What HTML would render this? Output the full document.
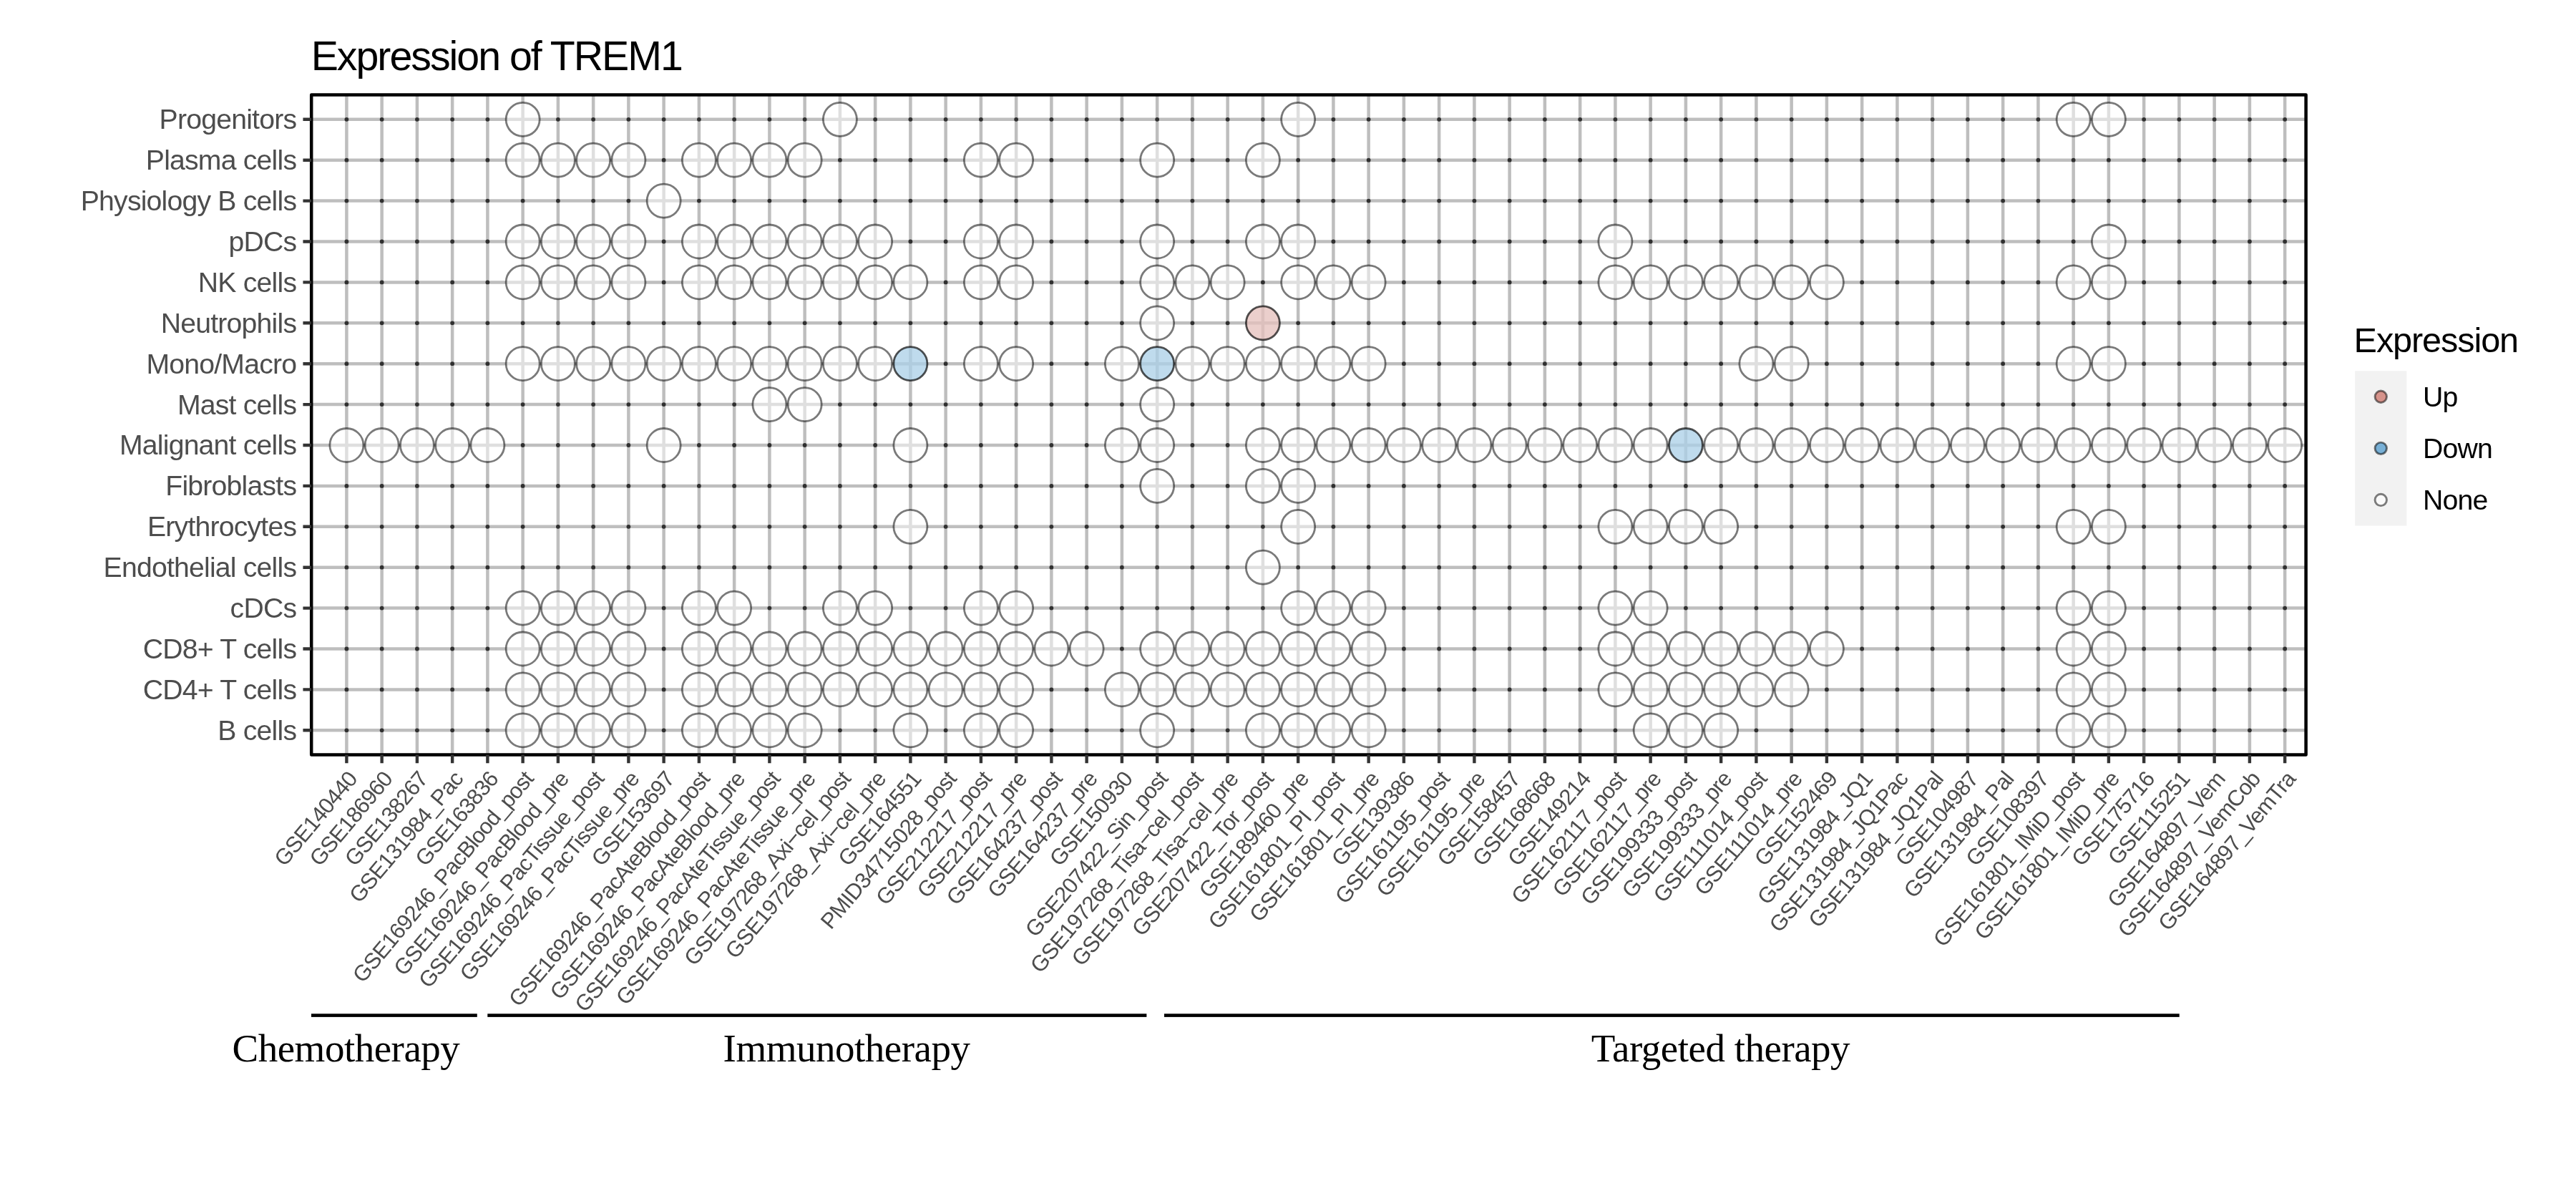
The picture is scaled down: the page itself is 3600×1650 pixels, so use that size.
<!DOCTYPE html><html><head><meta charset="utf-8"><style>html,body{margin:0;padding:0;background:#fff;width:3600px;height:1650px;overflow:hidden}svg{display:block;will-change:transform}</style></head><body>
<svg width="3600" height="1650" viewBox="0 0 3600 1650">
<rect width="3600" height="1650" fill="#fff"/>
<path d="M484.40 132.5V1054.5M533.65 132.5V1054.5M582.90 132.5V1054.5M632.15 132.5V1054.5M681.40 132.5V1054.5M730.65 132.5V1054.5M779.90 132.5V1054.5M829.15 132.5V1054.5M878.40 132.5V1054.5M927.65 132.5V1054.5M976.90 132.5V1054.5M1026.15 132.5V1054.5M1075.40 132.5V1054.5M1124.65 132.5V1054.5M1173.90 132.5V1054.5M1223.15 132.5V1054.5M1272.40 132.5V1054.5M1321.65 132.5V1054.5M1370.90 132.5V1054.5M1420.15 132.5V1054.5M1469.40 132.5V1054.5M1518.65 132.5V1054.5M1567.90 132.5V1054.5M1617.15 132.5V1054.5M1666.40 132.5V1054.5M1715.65 132.5V1054.5M1764.90 132.5V1054.5M1814.15 132.5V1054.5M1863.40 132.5V1054.5M1912.65 132.5V1054.5M1961.90 132.5V1054.5M2011.15 132.5V1054.5M2060.40 132.5V1054.5M2109.65 132.5V1054.5M2158.90 132.5V1054.5M2208.15 132.5V1054.5M2257.40 132.5V1054.5M2306.65 132.5V1054.5M2355.90 132.5V1054.5M2405.15 132.5V1054.5M2454.40 132.5V1054.5M2503.65 132.5V1054.5M2552.90 132.5V1054.5M2602.15 132.5V1054.5M2651.40 132.5V1054.5M2700.65 132.5V1054.5M2749.90 132.5V1054.5M2799.15 132.5V1054.5M2848.40 132.5V1054.5M2897.65 132.5V1054.5M2946.90 132.5V1054.5M2996.15 132.5V1054.5M3045.40 132.5V1054.5M3094.65 132.5V1054.5M3143.90 132.5V1054.5M3193.15 132.5V1054.5M435.2 166.80H3222.6M435.2 223.70H3222.6M435.2 280.60H3222.6M435.2 337.50H3222.6M435.2 394.40H3222.6M435.2 451.30H3222.6M435.2 508.20H3222.6M435.2 565.10H3222.6M435.2 622.00H3222.6M435.2 678.90H3222.6M435.2 735.80H3222.6M435.2 792.70H3222.6M435.2 849.60H3222.6M435.2 906.50H3222.6M435.2 963.40H3222.6M435.2 1020.30H3222.6" stroke="#bebebe" stroke-width="4.5" fill="none"/>
<g fill="#303030"><circle cx="484.40" cy="166.80" r="2.9"/><circle cx="533.65" cy="166.80" r="2.9"/><circle cx="582.90" cy="166.80" r="2.9"/><circle cx="632.15" cy="166.80" r="2.9"/><circle cx="681.40" cy="166.80" r="2.9"/><circle cx="779.90" cy="166.80" r="2.9"/><circle cx="829.15" cy="166.80" r="2.9"/><circle cx="878.40" cy="166.80" r="2.9"/><circle cx="927.65" cy="166.80" r="2.9"/><circle cx="976.90" cy="166.80" r="2.9"/><circle cx="1026.15" cy="166.80" r="2.9"/><circle cx="1075.40" cy="166.80" r="2.9"/><circle cx="1124.65" cy="166.80" r="2.9"/><circle cx="1223.15" cy="166.80" r="2.9"/><circle cx="1272.40" cy="166.80" r="2.9"/><circle cx="1321.65" cy="166.80" r="2.9"/><circle cx="1370.90" cy="166.80" r="2.9"/><circle cx="1420.15" cy="166.80" r="2.9"/><circle cx="1469.40" cy="166.80" r="2.9"/><circle cx="1518.65" cy="166.80" r="2.9"/><circle cx="1567.90" cy="166.80" r="2.9"/><circle cx="1617.15" cy="166.80" r="2.9"/><circle cx="1666.40" cy="166.80" r="2.9"/><circle cx="1715.65" cy="166.80" r="2.9"/><circle cx="1764.90" cy="166.80" r="2.9"/><circle cx="1863.40" cy="166.80" r="2.9"/><circle cx="1912.65" cy="166.80" r="2.9"/><circle cx="1961.90" cy="166.80" r="2.9"/><circle cx="2011.15" cy="166.80" r="2.9"/><circle cx="2060.40" cy="166.80" r="2.9"/><circle cx="2109.65" cy="166.80" r="2.9"/><circle cx="2158.90" cy="166.80" r="2.9"/><circle cx="2208.15" cy="166.80" r="2.9"/><circle cx="2257.40" cy="166.80" r="2.9"/><circle cx="2306.65" cy="166.80" r="2.9"/><circle cx="2355.90" cy="166.80" r="2.9"/><circle cx="2405.15" cy="166.80" r="2.9"/><circle cx="2454.40" cy="166.80" r="2.9"/><circle cx="2503.65" cy="166.80" r="2.9"/><circle cx="2552.90" cy="166.80" r="2.9"/><circle cx="2602.15" cy="166.80" r="2.9"/><circle cx="2651.40" cy="166.80" r="2.9"/><circle cx="2700.65" cy="166.80" r="2.9"/><circle cx="2749.90" cy="166.80" r="2.9"/><circle cx="2799.15" cy="166.80" r="2.9"/><circle cx="2848.40" cy="166.80" r="2.9"/><circle cx="2996.15" cy="166.80" r="2.9"/><circle cx="3045.40" cy="166.80" r="2.9"/><circle cx="3094.65" cy="166.80" r="2.9"/><circle cx="3143.90" cy="166.80" r="2.9"/><circle cx="3193.15" cy="166.80" r="2.9"/><circle cx="484.40" cy="223.70" r="2.9"/><circle cx="533.65" cy="223.70" r="2.9"/><circle cx="582.90" cy="223.70" r="2.9"/><circle cx="632.15" cy="223.70" r="2.9"/><circle cx="681.40" cy="223.70" r="2.9"/><circle cx="927.65" cy="223.70" r="2.9"/><circle cx="1173.90" cy="223.70" r="2.9"/><circle cx="1223.15" cy="223.70" r="2.9"/><circle cx="1272.40" cy="223.70" r="2.9"/><circle cx="1321.65" cy="223.70" r="2.9"/><circle cx="1469.40" cy="223.70" r="2.9"/><circle cx="1518.65" cy="223.70" r="2.9"/><circle cx="1567.90" cy="223.70" r="2.9"/><circle cx="1666.40" cy="223.70" r="2.9"/><circle cx="1715.65" cy="223.70" r="2.9"/><circle cx="1814.15" cy="223.70" r="2.9"/><circle cx="1863.40" cy="223.70" r="2.9"/><circle cx="1912.65" cy="223.70" r="2.9"/><circle cx="1961.90" cy="223.70" r="2.9"/><circle cx="2011.15" cy="223.70" r="2.9"/><circle cx="2060.40" cy="223.70" r="2.9"/><circle cx="2109.65" cy="223.70" r="2.9"/><circle cx="2158.90" cy="223.70" r="2.9"/><circle cx="2208.15" cy="223.70" r="2.9"/><circle cx="2257.40" cy="223.70" r="2.9"/><circle cx="2306.65" cy="223.70" r="2.9"/><circle cx="2355.90" cy="223.70" r="2.9"/><circle cx="2405.15" cy="223.70" r="2.9"/><circle cx="2454.40" cy="223.70" r="2.9"/><circle cx="2503.65" cy="223.70" r="2.9"/><circle cx="2552.90" cy="223.70" r="2.9"/><circle cx="2602.15" cy="223.70" r="2.9"/><circle cx="2651.40" cy="223.70" r="2.9"/><circle cx="2700.65" cy="223.70" r="2.9"/><circle cx="2749.90" cy="223.70" r="2.9"/><circle cx="2799.15" cy="223.70" r="2.9"/><circle cx="2848.40" cy="223.70" r="2.9"/><circle cx="2897.65" cy="223.70" r="2.9"/><circle cx="2946.90" cy="223.70" r="2.9"/><circle cx="2996.15" cy="223.70" r="2.9"/><circle cx="3045.40" cy="223.70" r="2.9"/><circle cx="3094.65" cy="223.70" r="2.9"/><circle cx="3143.90" cy="223.70" r="2.9"/><circle cx="3193.15" cy="223.70" r="2.9"/><circle cx="484.40" cy="280.60" r="2.9"/><circle cx="533.65" cy="280.60" r="2.9"/><circle cx="582.90" cy="280.60" r="2.9"/><circle cx="632.15" cy="280.60" r="2.9"/><circle cx="681.40" cy="280.60" r="2.9"/><circle cx="730.65" cy="280.60" r="2.9"/><circle cx="779.90" cy="280.60" r="2.9"/><circle cx="829.15" cy="280.60" r="2.9"/><circle cx="878.40" cy="280.60" r="2.9"/><circle cx="976.90" cy="280.60" r="2.9"/><circle cx="1026.15" cy="280.60" r="2.9"/><circle cx="1075.40" cy="280.60" r="2.9"/><circle cx="1124.65" cy="280.60" r="2.9"/><circle cx="1173.90" cy="280.60" r="2.9"/><circle cx="1223.15" cy="280.60" r="2.9"/><circle cx="1272.40" cy="280.60" r="2.9"/><circle cx="1321.65" cy="280.60" r="2.9"/><circle cx="1370.90" cy="280.60" r="2.9"/><circle cx="1420.15" cy="280.60" r="2.9"/><circle cx="1469.40" cy="280.60" r="2.9"/><circle cx="1518.65" cy="280.60" r="2.9"/><circle cx="1567.90" cy="280.60" r="2.9"/><circle cx="1617.15" cy="280.60" r="2.9"/><circle cx="1666.40" cy="280.60" r="2.9"/><circle cx="1715.65" cy="280.60" r="2.9"/><circle cx="1764.90" cy="280.60" r="2.9"/><circle cx="1814.15" cy="280.60" r="2.9"/><circle cx="1863.40" cy="280.60" r="2.9"/><circle cx="1912.65" cy="280.60" r="2.9"/><circle cx="1961.90" cy="280.60" r="2.9"/><circle cx="2011.15" cy="280.60" r="2.9"/><circle cx="2060.40" cy="280.60" r="2.9"/><circle cx="2109.65" cy="280.60" r="2.9"/><circle cx="2158.90" cy="280.60" r="2.9"/><circle cx="2208.15" cy="280.60" r="2.9"/><circle cx="2257.40" cy="280.60" r="2.9"/><circle cx="2306.65" cy="280.60" r="2.9"/><circle cx="2355.90" cy="280.60" r="2.9"/><circle cx="2405.15" cy="280.60" r="2.9"/><circle cx="2454.40" cy="280.60" r="2.9"/><circle cx="2503.65" cy="280.60" r="2.9"/><circle cx="2552.90" cy="280.60" r="2.9"/><circle cx="2602.15" cy="280.60" r="2.9"/><circle cx="2651.40" cy="280.60" r="2.9"/><circle cx="2700.65" cy="280.60" r="2.9"/><circle cx="2749.90" cy="280.60" r="2.9"/><circle cx="2799.15" cy="280.60" r="2.9"/><circle cx="2848.40" cy="280.60" r="2.9"/><circle cx="2897.65" cy="280.60" r="2.9"/><circle cx="2946.90" cy="280.60" r="2.9"/><circle cx="2996.15" cy="280.60" r="2.9"/><circle cx="3045.40" cy="280.60" r="2.9"/><circle cx="3094.65" cy="280.60" r="2.9"/><circle cx="3143.90" cy="280.60" r="2.9"/><circle cx="3193.15" cy="280.60" r="2.9"/><circle cx="484.40" cy="337.50" r="2.9"/><circle cx="533.65" cy="337.50" r="2.9"/><circle cx="582.90" cy="337.50" r="2.9"/><circle cx="632.15" cy="337.50" r="2.9"/><circle cx="681.40" cy="337.50" r="2.9"/><circle cx="927.65" cy="337.50" r="2.9"/><circle cx="1272.40" cy="337.50" r="2.9"/><circle cx="1321.65" cy="337.50" r="2.9"/><circle cx="1469.40" cy="337.50" r="2.9"/><circle cx="1518.65" cy="337.50" r="2.9"/><circle cx="1567.90" cy="337.50" r="2.9"/><circle cx="1666.40" cy="337.50" r="2.9"/><circle cx="1715.65" cy="337.50" r="2.9"/><circle cx="1863.40" cy="337.50" r="2.9"/><circle cx="1912.65" cy="337.50" r="2.9"/><circle cx="1961.90" cy="337.50" r="2.9"/><circle cx="2011.15" cy="337.50" r="2.9"/><circle cx="2060.40" cy="337.50" r="2.9"/><circle cx="2109.65" cy="337.50" r="2.9"/><circle cx="2158.90" cy="337.50" r="2.9"/><circle cx="2208.15" cy="337.50" r="2.9"/><circle cx="2306.65" cy="337.50" r="2.9"/><circle cx="2355.90" cy="337.50" r="2.9"/><circle cx="2405.15" cy="337.50" r="2.9"/><circle cx="2454.40" cy="337.50" r="2.9"/><circle cx="2503.65" cy="337.50" r="2.9"/><circle cx="2552.90" cy="337.50" r="2.9"/><circle cx="2602.15" cy="337.50" r="2.9"/><circle cx="2651.40" cy="337.50" r="2.9"/><circle cx="2700.65" cy="337.50" r="2.9"/><circle cx="2749.90" cy="337.50" r="2.9"/><circle cx="2799.15" cy="337.50" r="2.9"/><circle cx="2848.40" cy="337.50" r="2.9"/><circle cx="2897.65" cy="337.50" r="2.9"/><circle cx="2996.15" cy="337.50" r="2.9"/><circle cx="3045.40" cy="337.50" r="2.9"/><circle cx="3094.65" cy="337.50" r="2.9"/><circle cx="3143.90" cy="337.50" r="2.9"/><circle cx="3193.15" cy="337.50" r="2.9"/><circle cx="484.40" cy="394.40" r="2.9"/><circle cx="533.65" cy="394.40" r="2.9"/><circle cx="582.90" cy="394.40" r="2.9"/><circle cx="632.15" cy="394.40" r="2.9"/><circle cx="681.40" cy="394.40" r="2.9"/><circle cx="927.65" cy="394.40" r="2.9"/><circle cx="1321.65" cy="394.40" r="2.9"/><circle cx="1469.40" cy="394.40" r="2.9"/><circle cx="1518.65" cy="394.40" r="2.9"/><circle cx="1567.90" cy="394.40" r="2.9"/><circle cx="1764.90" cy="394.40" r="2.9"/><circle cx="1961.90" cy="394.40" r="2.9"/><circle cx="2011.15" cy="394.40" r="2.9"/><circle cx="2060.40" cy="394.40" r="2.9"/><circle cx="2109.65" cy="394.40" r="2.9"/><circle cx="2158.90" cy="394.40" r="2.9"/><circle cx="2208.15" cy="394.40" r="2.9"/><circle cx="2602.15" cy="394.40" r="2.9"/><circle cx="2651.40" cy="394.40" r="2.9"/><circle cx="2700.65" cy="394.40" r="2.9"/><circle cx="2749.90" cy="394.40" r="2.9"/><circle cx="2799.15" cy="394.40" r="2.9"/><circle cx="2848.40" cy="394.40" r="2.9"/><circle cx="2996.15" cy="394.40" r="2.9"/><circle cx="3045.40" cy="394.40" r="2.9"/><circle cx="3094.65" cy="394.40" r="2.9"/><circle cx="3143.90" cy="394.40" r="2.9"/><circle cx="3193.15" cy="394.40" r="2.9"/><circle cx="484.40" cy="451.30" r="2.9"/><circle cx="533.65" cy="451.30" r="2.9"/><circle cx="582.90" cy="451.30" r="2.9"/><circle cx="632.15" cy="451.30" r="2.9"/><circle cx="681.40" cy="451.30" r="2.9"/><circle cx="730.65" cy="451.30" r="2.9"/><circle cx="779.90" cy="451.30" r="2.9"/><circle cx="829.15" cy="451.30" r="2.9"/><circle cx="878.40" cy="451.30" r="2.9"/><circle cx="927.65" cy="451.30" r="2.9"/><circle cx="976.90" cy="451.30" r="2.9"/><circle cx="1026.15" cy="451.30" r="2.9"/><circle cx="1075.40" cy="451.30" r="2.9"/><circle cx="1124.65" cy="451.30" r="2.9"/><circle cx="1173.90" cy="451.30" r="2.9"/><circle cx="1223.15" cy="451.30" r="2.9"/><circle cx="1272.40" cy="451.30" r="2.9"/><circle cx="1321.65" cy="451.30" r="2.9"/><circle cx="1370.90" cy="451.30" r="2.9"/><circle cx="1420.15" cy="451.30" r="2.9"/><circle cx="1469.40" cy="451.30" r="2.9"/><circle cx="1518.65" cy="451.30" r="2.9"/><circle cx="1567.90" cy="451.30" r="2.9"/><circle cx="1666.40" cy="451.30" r="2.9"/><circle cx="1715.65" cy="451.30" r="2.9"/><circle cx="1814.15" cy="451.30" r="2.9"/><circle cx="1863.40" cy="451.30" r="2.9"/><circle cx="1912.65" cy="451.30" r="2.9"/><circle cx="1961.90" cy="451.30" r="2.9"/><circle cx="2011.15" cy="451.30" r="2.9"/><circle cx="2060.40" cy="451.30" r="2.9"/><circle cx="2109.65" cy="451.30" r="2.9"/><circle cx="2158.90" cy="451.30" r="2.9"/><circle cx="2208.15" cy="451.30" r="2.9"/><circle cx="2257.40" cy="451.30" r="2.9"/><circle cx="2306.65" cy="451.30" r="2.9"/><circle cx="2355.90" cy="451.30" r="2.9"/><circle cx="2405.15" cy="451.30" r="2.9"/><circle cx="2454.40" cy="451.30" r="2.9"/><circle cx="2503.65" cy="451.30" r="2.9"/><circle cx="2552.90" cy="451.30" r="2.9"/><circle cx="2602.15" cy="451.30" r="2.9"/><circle cx="2651.40" cy="451.30" r="2.9"/><circle cx="2700.65" cy="451.30" r="2.9"/><circle cx="2749.90" cy="451.30" r="2.9"/><circle cx="2799.15" cy="451.30" r="2.9"/><circle cx="2848.40" cy="451.30" r="2.9"/><circle cx="2897.65" cy="451.30" r="2.9"/><circle cx="2946.90" cy="451.30" r="2.9"/><circle cx="2996.15" cy="451.30" r="2.9"/><circle cx="3045.40" cy="451.30" r="2.9"/><circle cx="3094.65" cy="451.30" r="2.9"/><circle cx="3143.90" cy="451.30" r="2.9"/><circle cx="3193.15" cy="451.30" r="2.9"/><circle cx="484.40" cy="508.20" r="2.9"/><circle cx="533.65" cy="508.20" r="2.9"/><circle cx="582.90" cy="508.20" r="2.9"/><circle cx="632.15" cy="508.20" r="2.9"/><circle cx="681.40" cy="508.20" r="2.9"/><circle cx="1321.65" cy="508.20" r="2.9"/><circle cx="1469.40" cy="508.20" r="2.9"/><circle cx="1518.65" cy="508.20" r="2.9"/><circle cx="1961.90" cy="508.20" r="2.9"/><circle cx="2011.15" cy="508.20" r="2.9"/><circle cx="2060.40" cy="508.20" r="2.9"/><circle cx="2109.65" cy="508.20" r="2.9"/><circle cx="2158.90" cy="508.20" r="2.9"/><circle cx="2208.15" cy="508.20" r="2.9"/><circle cx="2257.40" cy="508.20" r="2.9"/><circle cx="2306.65" cy="508.20" r="2.9"/><circle cx="2355.90" cy="508.20" r="2.9"/><circle cx="2405.15" cy="508.20" r="2.9"/><circle cx="2552.90" cy="508.20" r="2.9"/><circle cx="2602.15" cy="508.20" r="2.9"/><circle cx="2651.40" cy="508.20" r="2.9"/><circle cx="2700.65" cy="508.20" r="2.9"/><circle cx="2749.90" cy="508.20" r="2.9"/><circle cx="2799.15" cy="508.20" r="2.9"/><circle cx="2848.40" cy="508.20" r="2.9"/><circle cx="2996.15" cy="508.20" r="2.9"/><circle cx="3045.40" cy="508.20" r="2.9"/><circle cx="3094.65" cy="508.20" r="2.9"/><circle cx="3143.90" cy="508.20" r="2.9"/><circle cx="3193.15" cy="508.20" r="2.9"/><circle cx="484.40" cy="565.10" r="2.9"/><circle cx="533.65" cy="565.10" r="2.9"/><circle cx="582.90" cy="565.10" r="2.9"/><circle cx="632.15" cy="565.10" r="2.9"/><circle cx="681.40" cy="565.10" r="2.9"/><circle cx="730.65" cy="565.10" r="2.9"/><circle cx="779.90" cy="565.10" r="2.9"/><circle cx="829.15" cy="565.10" r="2.9"/><circle cx="878.40" cy="565.10" r="2.9"/><circle cx="927.65" cy="565.10" r="2.9"/><circle cx="976.90" cy="565.10" r="2.9"/><circle cx="1026.15" cy="565.10" r="2.9"/><circle cx="1173.90" cy="565.10" r="2.9"/><circle cx="1223.15" cy="565.10" r="2.9"/><circle cx="1272.40" cy="565.10" r="2.9"/><circle cx="1321.65" cy="565.10" r="2.9"/><circle cx="1370.90" cy="565.10" r="2.9"/><circle cx="1420.15" cy="565.10" r="2.9"/><circle cx="1469.40" cy="565.10" r="2.9"/><circle cx="1518.65" cy="565.10" r="2.9"/><circle cx="1567.90" cy="565.10" r="2.9"/><circle cx="1666.40" cy="565.10" r="2.9"/><circle cx="1715.65" cy="565.10" r="2.9"/><circle cx="1764.90" cy="565.10" r="2.9"/><circle cx="1814.15" cy="565.10" r="2.9"/><circle cx="1863.40" cy="565.10" r="2.9"/><circle cx="1912.65" cy="565.10" r="2.9"/><circle cx="1961.90" cy="565.10" r="2.9"/><circle cx="2011.15" cy="565.10" r="2.9"/><circle cx="2060.40" cy="565.10" r="2.9"/><circle cx="2109.65" cy="565.10" r="2.9"/><circle cx="2158.90" cy="565.10" r="2.9"/><circle cx="2208.15" cy="565.10" r="2.9"/><circle cx="2257.40" cy="565.10" r="2.9"/><circle cx="2306.65" cy="565.10" r="2.9"/><circle cx="2355.90" cy="565.10" r="2.9"/><circle cx="2405.15" cy="565.10" r="2.9"/><circle cx="2454.40" cy="565.10" r="2.9"/><circle cx="2503.65" cy="565.10" r="2.9"/><circle cx="2552.90" cy="565.10" r="2.9"/><circle cx="2602.15" cy="565.10" r="2.9"/><circle cx="2651.40" cy="565.10" r="2.9"/><circle cx="2700.65" cy="565.10" r="2.9"/><circle cx="2749.90" cy="565.10" r="2.9"/><circle cx="2799.15" cy="565.10" r="2.9"/><circle cx="2848.40" cy="565.10" r="2.9"/><circle cx="2897.65" cy="565.10" r="2.9"/><circle cx="2946.90" cy="565.10" r="2.9"/><circle cx="2996.15" cy="565.10" r="2.9"/><circle cx="3045.40" cy="565.10" r="2.9"/><circle cx="3094.65" cy="565.10" r="2.9"/><circle cx="3143.90" cy="565.10" r="2.9"/><circle cx="3193.15" cy="565.10" r="2.9"/><circle cx="730.65" cy="622.00" r="2.9"/><circle cx="779.90" cy="622.00" r="2.9"/><circle cx="829.15" cy="622.00" r="2.9"/><circle cx="878.40" cy="622.00" r="2.9"/><circle cx="976.90" cy="622.00" r="2.9"/><circle cx="1026.15" cy="622.00" r="2.9"/><circle cx="1075.40" cy="622.00" r="2.9"/><circle cx="1124.65" cy="622.00" r="2.9"/><circle cx="1173.90" cy="622.00" r="2.9"/><circle cx="1223.15" cy="622.00" r="2.9"/><circle cx="1321.65" cy="622.00" r="2.9"/><circle cx="1370.90" cy="622.00" r="2.9"/><circle cx="1420.15" cy="622.00" r="2.9"/><circle cx="1469.40" cy="622.00" r="2.9"/><circle cx="1518.65" cy="622.00" r="2.9"/><circle cx="1666.40" cy="622.00" r="2.9"/><circle cx="1715.65" cy="622.00" r="2.9"/><circle cx="484.40" cy="678.90" r="2.9"/><circle cx="533.65" cy="678.90" r="2.9"/><circle cx="582.90" cy="678.90" r="2.9"/><circle cx="632.15" cy="678.90" r="2.9"/><circle cx="681.40" cy="678.90" r="2.9"/><circle cx="730.65" cy="678.90" r="2.9"/><circle cx="779.90" cy="678.90" r="2.9"/><circle cx="829.15" cy="678.90" r="2.9"/><circle cx="878.40" cy="678.90" r="2.9"/><circle cx="927.65" cy="678.90" r="2.9"/><circle cx="976.90" cy="678.90" r="2.9"/><circle cx="1026.15" cy="678.90" r="2.9"/><circle cx="1075.40" cy="678.90" r="2.9"/><circle cx="1124.65" cy="678.90" r="2.9"/><circle cx="1173.90" cy="678.90" r="2.9"/><circle cx="1223.15" cy="678.90" r="2.9"/><circle cx="1272.40" cy="678.90" r="2.9"/><circle cx="1321.65" cy="678.90" r="2.9"/><circle cx="1370.90" cy="678.90" r="2.9"/><circle cx="1420.15" cy="678.90" r="2.9"/><circle cx="1469.40" cy="678.90" r="2.9"/><circle cx="1518.65" cy="678.90" r="2.9"/><circle cx="1567.90" cy="678.90" r="2.9"/><circle cx="1666.40" cy="678.90" r="2.9"/><circle cx="1715.65" cy="678.90" r="2.9"/><circle cx="1863.40" cy="678.90" r="2.9"/><circle cx="1912.65" cy="678.90" r="2.9"/><circle cx="1961.90" cy="678.90" r="2.9"/><circle cx="2011.15" cy="678.90" r="2.9"/><circle cx="2060.40" cy="678.90" r="2.9"/><circle cx="2109.65" cy="678.90" r="2.9"/><circle cx="2158.90" cy="678.90" r="2.9"/><circle cx="2208.15" cy="678.90" r="2.9"/><circle cx="2257.40" cy="678.90" r="2.9"/><circle cx="2306.65" cy="678.90" r="2.9"/><circle cx="2355.90" cy="678.90" r="2.9"/><circle cx="2405.15" cy="678.90" r="2.9"/><circle cx="2454.40" cy="678.90" r="2.9"/><circle cx="2503.65" cy="678.90" r="2.9"/><circle cx="2552.90" cy="678.90" r="2.9"/><circle cx="2602.15" cy="678.90" r="2.9"/><circle cx="2651.40" cy="678.90" r="2.9"/><circle cx="2700.65" cy="678.90" r="2.9"/><circle cx="2749.90" cy="678.90" r="2.9"/><circle cx="2799.15" cy="678.90" r="2.9"/><circle cx="2848.40" cy="678.90" r="2.9"/><circle cx="2897.65" cy="678.90" r="2.9"/><circle cx="2946.90" cy="678.90" r="2.9"/><circle cx="2996.15" cy="678.90" r="2.9"/><circle cx="3045.40" cy="678.90" r="2.9"/><circle cx="3094.65" cy="678.90" r="2.9"/><circle cx="3143.90" cy="678.90" r="2.9"/><circle cx="3193.15" cy="678.90" r="2.9"/><circle cx="484.40" cy="735.80" r="2.9"/><circle cx="533.65" cy="735.80" r="2.9"/><circle cx="582.90" cy="735.80" r="2.9"/><circle cx="632.15" cy="735.80" r="2.9"/><circle cx="681.40" cy="735.80" r="2.9"/><circle cx="730.65" cy="735.80" r="2.9"/><circle cx="779.90" cy="735.80" r="2.9"/><circle cx="829.15" cy="735.80" r="2.9"/><circle cx="878.40" cy="735.80" r="2.9"/><circle cx="927.65" cy="735.80" r="2.9"/><circle cx="976.90" cy="735.80" r="2.9"/><circle cx="1026.15" cy="735.80" r="2.9"/><circle cx="1075.40" cy="735.80" r="2.9"/><circle cx="1124.65" cy="735.80" r="2.9"/><circle cx="1173.90" cy="735.80" r="2.9"/><circle cx="1223.15" cy="735.80" r="2.9"/><circle cx="1321.65" cy="735.80" r="2.9"/><circle cx="1370.90" cy="735.80" r="2.9"/><circle cx="1420.15" cy="735.80" r="2.9"/><circle cx="1469.40" cy="735.80" r="2.9"/><circle cx="1518.65" cy="735.80" r="2.9"/><circle cx="1567.90" cy="735.80" r="2.9"/><circle cx="1617.15" cy="735.80" r="2.9"/><circle cx="1666.40" cy="735.80" r="2.9"/><circle cx="1715.65" cy="735.80" r="2.9"/><circle cx="1764.90" cy="735.80" r="2.9"/><circle cx="1863.40" cy="735.80" r="2.9"/><circle cx="1912.65" cy="735.80" r="2.9"/><circle cx="1961.90" cy="735.80" r="2.9"/><circle cx="2011.15" cy="735.80" r="2.9"/><circle cx="2060.40" cy="735.80" r="2.9"/><circle cx="2109.65" cy="735.80" r="2.9"/><circle cx="2158.90" cy="735.80" r="2.9"/><circle cx="2208.15" cy="735.80" r="2.9"/><circle cx="2454.40" cy="735.80" r="2.9"/><circle cx="2503.65" cy="735.80" r="2.9"/><circle cx="2552.90" cy="735.80" r="2.9"/><circle cx="2602.15" cy="735.80" r="2.9"/><circle cx="2651.40" cy="735.80" r="2.9"/><circle cx="2700.65" cy="735.80" r="2.9"/><circle cx="2749.90" cy="735.80" r="2.9"/><circle cx="2799.15" cy="735.80" r="2.9"/><circle cx="2848.40" cy="735.80" r="2.9"/><circle cx="2996.15" cy="735.80" r="2.9"/><circle cx="3045.40" cy="735.80" r="2.9"/><circle cx="3094.65" cy="735.80" r="2.9"/><circle cx="3143.90" cy="735.80" r="2.9"/><circle cx="3193.15" cy="735.80" r="2.9"/><circle cx="484.40" cy="792.70" r="2.9"/><circle cx="533.65" cy="792.70" r="2.9"/><circle cx="582.90" cy="792.70" r="2.9"/><circle cx="632.15" cy="792.70" r="2.9"/><circle cx="681.40" cy="792.70" r="2.9"/><circle cx="730.65" cy="792.70" r="2.9"/><circle cx="779.90" cy="792.70" r="2.9"/><circle cx="829.15" cy="792.70" r="2.9"/><circle cx="878.40" cy="792.70" r="2.9"/><circle cx="927.65" cy="792.70" r="2.9"/><circle cx="976.90" cy="792.70" r="2.9"/><circle cx="1026.15" cy="792.70" r="2.9"/><circle cx="1075.40" cy="792.70" r="2.9"/><circle cx="1124.65" cy="792.70" r="2.9"/><circle cx="1173.90" cy="792.70" r="2.9"/><circle cx="1223.15" cy="792.70" r="2.9"/><circle cx="1272.40" cy="792.70" r="2.9"/><circle cx="1321.65" cy="792.70" r="2.9"/><circle cx="1370.90" cy="792.70" r="2.9"/><circle cx="1420.15" cy="792.70" r="2.9"/><circle cx="1469.40" cy="792.70" r="2.9"/><circle cx="1518.65" cy="792.70" r="2.9"/><circle cx="1567.90" cy="792.70" r="2.9"/><circle cx="1617.15" cy="792.70" r="2.9"/><circle cx="1666.40" cy="792.70" r="2.9"/><circle cx="1715.65" cy="792.70" r="2.9"/><circle cx="1814.15" cy="792.70" r="2.9"/><circle cx="1863.40" cy="792.70" r="2.9"/><circle cx="1912.65" cy="792.70" r="2.9"/><circle cx="1961.90" cy="792.70" r="2.9"/><circle cx="2011.15" cy="792.70" r="2.9"/><circle cx="2060.40" cy="792.70" r="2.9"/><circle cx="2109.65" cy="792.70" r="2.9"/><circle cx="2158.90" cy="792.70" r="2.9"/><circle cx="2208.15" cy="792.70" r="2.9"/><circle cx="2257.40" cy="792.70" r="2.9"/><circle cx="2306.65" cy="792.70" r="2.9"/><circle cx="2355.90" cy="792.70" r="2.9"/><circle cx="2405.15" cy="792.70" r="2.9"/><circle cx="2454.40" cy="792.70" r="2.9"/><circle cx="2503.65" cy="792.70" r="2.9"/><circle cx="2552.90" cy="792.70" r="2.9"/><circle cx="2602.15" cy="792.70" r="2.9"/><circle cx="2651.40" cy="792.70" r="2.9"/><circle cx="2700.65" cy="792.70" r="2.9"/><circle cx="2749.90" cy="792.70" r="2.9"/><circle cx="2799.15" cy="792.70" r="2.9"/><circle cx="2848.40" cy="792.70" r="2.9"/><circle cx="2897.65" cy="792.70" r="2.9"/><circle cx="2946.90" cy="792.70" r="2.9"/><circle cx="2996.15" cy="792.70" r="2.9"/><circle cx="3045.40" cy="792.70" r="2.9"/><circle cx="3094.65" cy="792.70" r="2.9"/><circle cx="3143.90" cy="792.70" r="2.9"/><circle cx="3193.15" cy="792.70" r="2.9"/><circle cx="484.40" cy="849.60" r="2.9"/><circle cx="533.65" cy="849.60" r="2.9"/><circle cx="582.90" cy="849.60" r="2.9"/><circle cx="632.15" cy="849.60" r="2.9"/><circle cx="681.40" cy="849.60" r="2.9"/><circle cx="927.65" cy="849.60" r="2.9"/><circle cx="1075.40" cy="849.60" r="2.9"/><circle cx="1124.65" cy="849.60" r="2.9"/><circle cx="1272.40" cy="849.60" r="2.9"/><circle cx="1321.65" cy="849.60" r="2.9"/><circle cx="1469.40" cy="849.60" r="2.9"/><circle cx="1518.65" cy="849.60" r="2.9"/><circle cx="1567.90" cy="849.60" r="2.9"/><circle cx="1617.15" cy="849.60" r="2.9"/><circle cx="1666.40" cy="849.60" r="2.9"/><circle cx="1715.65" cy="849.60" r="2.9"/><circle cx="1764.90" cy="849.60" r="2.9"/><circle cx="1961.90" cy="849.60" r="2.9"/><circle cx="2011.15" cy="849.60" r="2.9"/><circle cx="2060.40" cy="849.60" r="2.9"/><circle cx="2109.65" cy="849.60" r="2.9"/><circle cx="2158.90" cy="849.60" r="2.9"/><circle cx="2208.15" cy="849.60" r="2.9"/><circle cx="2355.90" cy="849.60" r="2.9"/><circle cx="2405.15" cy="849.60" r="2.9"/><circle cx="2454.40" cy="849.60" r="2.9"/><circle cx="2503.65" cy="849.60" r="2.9"/><circle cx="2552.90" cy="849.60" r="2.9"/><circle cx="2602.15" cy="849.60" r="2.9"/><circle cx="2651.40" cy="849.60" r="2.9"/><circle cx="2700.65" cy="849.60" r="2.9"/><circle cx="2749.90" cy="849.60" r="2.9"/><circle cx="2799.15" cy="849.60" r="2.9"/><circle cx="2848.40" cy="849.60" r="2.9"/><circle cx="2996.15" cy="849.60" r="2.9"/><circle cx="3045.40" cy="849.60" r="2.9"/><circle cx="3094.65" cy="849.60" r="2.9"/><circle cx="3143.90" cy="849.60" r="2.9"/><circle cx="3193.15" cy="849.60" r="2.9"/><circle cx="484.40" cy="906.50" r="2.9"/><circle cx="533.65" cy="906.50" r="2.9"/><circle cx="582.90" cy="906.50" r="2.9"/><circle cx="632.15" cy="906.50" r="2.9"/><circle cx="681.40" cy="906.50" r="2.9"/><circle cx="927.65" cy="906.50" r="2.9"/><circle cx="1567.90" cy="906.50" r="2.9"/><circle cx="1961.90" cy="906.50" r="2.9"/><circle cx="2011.15" cy="906.50" r="2.9"/><circle cx="2060.40" cy="906.50" r="2.9"/><circle cx="2109.65" cy="906.50" r="2.9"/><circle cx="2158.90" cy="906.50" r="2.9"/><circle cx="2208.15" cy="906.50" r="2.9"/><circle cx="2602.15" cy="906.50" r="2.9"/><circle cx="2651.40" cy="906.50" r="2.9"/><circle cx="2700.65" cy="906.50" r="2.9"/><circle cx="2749.90" cy="906.50" r="2.9"/><circle cx="2799.15" cy="906.50" r="2.9"/><circle cx="2848.40" cy="906.50" r="2.9"/><circle cx="2996.15" cy="906.50" r="2.9"/><circle cx="3045.40" cy="906.50" r="2.9"/><circle cx="3094.65" cy="906.50" r="2.9"/><circle cx="3143.90" cy="906.50" r="2.9"/><circle cx="3193.15" cy="906.50" r="2.9"/><circle cx="484.40" cy="963.40" r="2.9"/><circle cx="533.65" cy="963.40" r="2.9"/><circle cx="582.90" cy="963.40" r="2.9"/><circle cx="632.15" cy="963.40" r="2.9"/><circle cx="681.40" cy="963.40" r="2.9"/><circle cx="927.65" cy="963.40" r="2.9"/><circle cx="1469.40" cy="963.40" r="2.9"/><circle cx="1518.65" cy="963.40" r="2.9"/><circle cx="1961.90" cy="963.40" r="2.9"/><circle cx="2011.15" cy="963.40" r="2.9"/><circle cx="2060.40" cy="963.40" r="2.9"/><circle cx="2109.65" cy="963.40" r="2.9"/><circle cx="2158.90" cy="963.40" r="2.9"/><circle cx="2208.15" cy="963.40" r="2.9"/><circle cx="2552.90" cy="963.40" r="2.9"/><circle cx="2602.15" cy="963.40" r="2.9"/><circle cx="2651.40" cy="963.40" r="2.9"/><circle cx="2700.65" cy="963.40" r="2.9"/><circle cx="2749.90" cy="963.40" r="2.9"/><circle cx="2799.15" cy="963.40" r="2.9"/><circle cx="2848.40" cy="963.40" r="2.9"/><circle cx="2996.15" cy="963.40" r="2.9"/><circle cx="3045.40" cy="963.40" r="2.9"/><circle cx="3094.65" cy="963.40" r="2.9"/><circle cx="3143.90" cy="963.40" r="2.9"/><circle cx="3193.15" cy="963.40" r="2.9"/><circle cx="484.40" cy="1020.30" r="2.9"/><circle cx="533.65" cy="1020.30" r="2.9"/><circle cx="582.90" cy="1020.30" r="2.9"/><circle cx="632.15" cy="1020.30" r="2.9"/><circle cx="681.40" cy="1020.30" r="2.9"/><circle cx="927.65" cy="1020.30" r="2.9"/><circle cx="1173.90" cy="1020.30" r="2.9"/><circle cx="1223.15" cy="1020.30" r="2.9"/><circle cx="1321.65" cy="1020.30" r="2.9"/><circle cx="1469.40" cy="1020.30" r="2.9"/><circle cx="1518.65" cy="1020.30" r="2.9"/><circle cx="1567.90" cy="1020.30" r="2.9"/><circle cx="1666.40" cy="1020.30" r="2.9"/><circle cx="1715.65" cy="1020.30" r="2.9"/><circle cx="1961.90" cy="1020.30" r="2.9"/><circle cx="2011.15" cy="1020.30" r="2.9"/><circle cx="2060.40" cy="1020.30" r="2.9"/><circle cx="2109.65" cy="1020.30" r="2.9"/><circle cx="2158.90" cy="1020.30" r="2.9"/><circle cx="2208.15" cy="1020.30" r="2.9"/><circle cx="2257.40" cy="1020.30" r="2.9"/><circle cx="2454.40" cy="1020.30" r="2.9"/><circle cx="2503.65" cy="1020.30" r="2.9"/><circle cx="2552.90" cy="1020.30" r="2.9"/><circle cx="2602.15" cy="1020.30" r="2.9"/><circle cx="2651.40" cy="1020.30" r="2.9"/><circle cx="2700.65" cy="1020.30" r="2.9"/><circle cx="2749.90" cy="1020.30" r="2.9"/><circle cx="2799.15" cy="1020.30" r="2.9"/><circle cx="2848.40" cy="1020.30" r="2.9"/><circle cx="2996.15" cy="1020.30" r="2.9"/><circle cx="3045.40" cy="1020.30" r="2.9"/><circle cx="3094.65" cy="1020.30" r="2.9"/><circle cx="3143.90" cy="1020.30" r="2.9"/><circle cx="3193.15" cy="1020.30" r="2.9"/></g>
<g><circle cx="730.65" cy="166.80" r="23.5" fill="rgba(255,255,255,0.5)"/><circle cx="1173.90" cy="166.80" r="23.5" fill="rgba(255,255,255,0.5)"/><circle cx="1814.15" cy="166.80" r="23.5" fill="rgba(255,255,255,0.5)"/><circle cx="2897.65" cy="166.80" r="23.5" fill="rgba(255,255,255,0.5)"/><circle cx="2946.90" cy="166.80" r="23.5" fill="rgba(255,255,255,0.5)"/><circle cx="730.65" cy="223.70" r="23.5" fill="rgba(255,255,255,0.5)"/><circle cx="779.90" cy="223.70" r="23.5" fill="rgba(255,255,255,0.5)"/><circle cx="829.15" cy="223.70" r="23.5" fill="rgba(255,255,255,0.5)"/><circle cx="878.40" cy="223.70" r="23.5" fill="rgba(255,255,255,0.5)"/><circle cx="976.90" cy="223.70" r="23.5" fill="rgba(255,255,255,0.5)"/><circle cx="1026.15" cy="223.70" r="23.5" fill="rgba(255,255,255,0.5)"/><circle cx="1075.40" cy="223.70" r="23.5" fill="rgba(255,255,255,0.5)"/><circle cx="1124.65" cy="223.70" r="23.5" fill="rgba(255,255,255,0.5)"/><circle cx="1370.90" cy="223.70" r="23.5" fill="rgba(255,255,255,0.5)"/><circle cx="1420.15" cy="223.70" r="23.5" fill="rgba(255,255,255,0.5)"/><circle cx="1617.15" cy="223.70" r="23.5" fill="rgba(255,255,255,0.5)"/><circle cx="1764.90" cy="223.70" r="23.5" fill="rgba(255,255,255,0.5)"/><circle cx="927.65" cy="280.60" r="23.5" fill="rgba(255,255,255,0.5)"/><circle cx="730.65" cy="337.50" r="23.5" fill="rgba(255,255,255,0.5)"/><circle cx="779.90" cy="337.50" r="23.5" fill="rgba(255,255,255,0.5)"/><circle cx="829.15" cy="337.50" r="23.5" fill="rgba(255,255,255,0.5)"/><circle cx="878.40" cy="337.50" r="23.5" fill="rgba(255,255,255,0.5)"/><circle cx="976.90" cy="337.50" r="23.5" fill="rgba(255,255,255,0.5)"/><circle cx="1026.15" cy="337.50" r="23.5" fill="rgba(255,255,255,0.5)"/><circle cx="1075.40" cy="337.50" r="23.5" fill="rgba(255,255,255,0.5)"/><circle cx="1124.65" cy="337.50" r="23.5" fill="rgba(255,255,255,0.5)"/><circle cx="1173.90" cy="337.50" r="23.5" fill="rgba(255,255,255,0.5)"/><circle cx="1223.15" cy="337.50" r="23.5" fill="rgba(255,255,255,0.5)"/><circle cx="1370.90" cy="337.50" r="23.5" fill="rgba(255,255,255,0.5)"/><circle cx="1420.15" cy="337.50" r="23.5" fill="rgba(255,255,255,0.5)"/><circle cx="1617.15" cy="337.50" r="23.5" fill="rgba(255,255,255,0.5)"/><circle cx="1764.90" cy="337.50" r="23.5" fill="rgba(255,255,255,0.5)"/><circle cx="1814.15" cy="337.50" r="23.5" fill="rgba(255,255,255,0.5)"/><circle cx="2257.40" cy="337.50" r="23.5" fill="rgba(255,255,255,0.5)"/><circle cx="2946.90" cy="337.50" r="23.5" fill="rgba(255,255,255,0.5)"/><circle cx="730.65" cy="394.40" r="23.5" fill="rgba(255,255,255,0.5)"/><circle cx="779.90" cy="394.40" r="23.5" fill="rgba(255,255,255,0.5)"/><circle cx="829.15" cy="394.40" r="23.5" fill="rgba(255,255,255,0.5)"/><circle cx="878.40" cy="394.40" r="23.5" fill="rgba(255,255,255,0.5)"/><circle cx="976.90" cy="394.40" r="23.5" fill="rgba(255,255,255,0.5)"/><circle cx="1026.15" cy="394.40" r="23.5" fill="rgba(255,255,255,0.5)"/><circle cx="1075.40" cy="394.40" r="23.5" fill="rgba(255,255,255,0.5)"/><circle cx="1124.65" cy="394.40" r="23.5" fill="rgba(255,255,255,0.5)"/><circle cx="1173.90" cy="394.40" r="23.5" fill="rgba(255,255,255,0.5)"/><circle cx="1223.15" cy="394.40" r="23.5" fill="rgba(255,255,255,0.5)"/><circle cx="1272.40" cy="394.40" r="23.5" fill="rgba(255,255,255,0.5)"/><circle cx="1370.90" cy="394.40" r="23.5" fill="rgba(255,255,255,0.5)"/><circle cx="1420.15" cy="394.40" r="23.5" fill="rgba(255,255,255,0.5)"/><circle cx="1617.15" cy="394.40" r="23.5" fill="rgba(255,255,255,0.5)"/><circle cx="1666.40" cy="394.40" r="23.5" fill="rgba(255,255,255,0.5)"/><circle cx="1715.65" cy="394.40" r="23.5" fill="rgba(255,255,255,0.5)"/><circle cx="1814.15" cy="394.40" r="23.5" fill="rgba(255,255,255,0.5)"/><circle cx="1863.40" cy="394.40" r="23.5" fill="rgba(255,255,255,0.5)"/><circle cx="1912.65" cy="394.40" r="23.5" fill="rgba(255,255,255,0.5)"/><circle cx="2257.40" cy="394.40" r="23.5" fill="rgba(255,255,255,0.5)"/><circle cx="2306.65" cy="394.40" r="23.5" fill="rgba(255,255,255,0.5)"/><circle cx="2355.90" cy="394.40" r="23.5" fill="rgba(255,255,255,0.5)"/><circle cx="2405.15" cy="394.40" r="23.5" fill="rgba(255,255,255,0.5)"/><circle cx="2454.40" cy="394.40" r="23.5" fill="rgba(255,255,255,0.5)"/><circle cx="2503.65" cy="394.40" r="23.5" fill="rgba(255,255,255,0.5)"/><circle cx="2552.90" cy="394.40" r="23.5" fill="rgba(255,255,255,0.5)"/><circle cx="2897.65" cy="394.40" r="23.5" fill="rgba(255,255,255,0.5)"/><circle cx="2946.90" cy="394.40" r="23.5" fill="rgba(255,255,255,0.5)"/><circle cx="1617.15" cy="451.30" r="23.5" fill="rgba(255,255,255,0.5)"/><circle cx="1764.90" cy="451.30" r="23.5" fill="rgba(229,192,188,0.76)"/><circle cx="730.65" cy="508.20" r="23.5" fill="rgba(255,255,255,0.5)"/><circle cx="779.90" cy="508.20" r="23.5" fill="rgba(255,255,255,0.5)"/><circle cx="829.15" cy="508.20" r="23.5" fill="rgba(255,255,255,0.5)"/><circle cx="878.40" cy="508.20" r="23.5" fill="rgba(255,255,255,0.5)"/><circle cx="927.65" cy="508.20" r="23.5" fill="rgba(255,255,255,0.5)"/><circle cx="976.90" cy="508.20" r="23.5" fill="rgba(255,255,255,0.5)"/><circle cx="1026.15" cy="508.20" r="23.5" fill="rgba(255,255,255,0.5)"/><circle cx="1075.40" cy="508.20" r="23.5" fill="rgba(255,255,255,0.5)"/><circle cx="1124.65" cy="508.20" r="23.5" fill="rgba(255,255,255,0.5)"/><circle cx="1173.90" cy="508.20" r="23.5" fill="rgba(255,255,255,0.5)"/><circle cx="1223.15" cy="508.20" r="23.5" fill="rgba(255,255,255,0.5)"/><circle cx="1272.40" cy="508.20" r="23.5" fill="rgba(171,208,231,0.76)"/><circle cx="1370.90" cy="508.20" r="23.5" fill="rgba(255,255,255,0.5)"/><circle cx="1420.15" cy="508.20" r="23.5" fill="rgba(255,255,255,0.5)"/><circle cx="1567.90" cy="508.20" r="23.5" fill="rgba(255,255,255,0.5)"/><circle cx="1617.15" cy="508.20" r="23.5" fill="rgba(171,208,231,0.76)"/><circle cx="1666.40" cy="508.20" r="23.5" fill="rgba(255,255,255,0.5)"/><circle cx="1715.65" cy="508.20" r="23.5" fill="rgba(255,255,255,0.5)"/><circle cx="1764.90" cy="508.20" r="23.5" fill="rgba(255,255,255,0.5)"/><circle cx="1814.15" cy="508.20" r="23.5" fill="rgba(255,255,255,0.5)"/><circle cx="1863.40" cy="508.20" r="23.5" fill="rgba(255,255,255,0.5)"/><circle cx="1912.65" cy="508.20" r="23.5" fill="rgba(255,255,255,0.5)"/><circle cx="2454.40" cy="508.20" r="23.5" fill="rgba(255,255,255,0.5)"/><circle cx="2503.65" cy="508.20" r="23.5" fill="rgba(255,255,255,0.5)"/><circle cx="2897.65" cy="508.20" r="23.5" fill="rgba(255,255,255,0.5)"/><circle cx="2946.90" cy="508.20" r="23.5" fill="rgba(255,255,255,0.5)"/><circle cx="1075.40" cy="565.10" r="23.5" fill="rgba(255,255,255,0.5)"/><circle cx="1124.65" cy="565.10" r="23.5" fill="rgba(255,255,255,0.5)"/><circle cx="1617.15" cy="565.10" r="23.5" fill="rgba(255,255,255,0.5)"/><circle cx="484.40" cy="622.00" r="23.5" fill="rgba(255,255,255,0.5)"/><circle cx="533.65" cy="622.00" r="23.5" fill="rgba(255,255,255,0.5)"/><circle cx="582.90" cy="622.00" r="23.5" fill="rgba(255,255,255,0.5)"/><circle cx="632.15" cy="622.00" r="23.5" fill="rgba(255,255,255,0.5)"/><circle cx="681.40" cy="622.00" r="23.5" fill="rgba(255,255,255,0.5)"/><circle cx="927.65" cy="622.00" r="23.5" fill="rgba(255,255,255,0.5)"/><circle cx="1272.40" cy="622.00" r="23.5" fill="rgba(255,255,255,0.5)"/><circle cx="1567.90" cy="622.00" r="23.5" fill="rgba(255,255,255,0.5)"/><circle cx="1617.15" cy="622.00" r="23.5" fill="rgba(255,255,255,0.5)"/><circle cx="1764.90" cy="622.00" r="23.5" fill="rgba(255,255,255,0.5)"/><circle cx="1814.15" cy="622.00" r="23.5" fill="rgba(255,255,255,0.5)"/><circle cx="1863.40" cy="622.00" r="23.5" fill="rgba(255,255,255,0.5)"/><circle cx="1912.65" cy="622.00" r="23.5" fill="rgba(255,255,255,0.5)"/><circle cx="1961.90" cy="622.00" r="23.5" fill="rgba(255,255,255,0.5)"/><circle cx="2011.15" cy="622.00" r="23.5" fill="rgba(255,255,255,0.5)"/><circle cx="2060.40" cy="622.00" r="23.5" fill="rgba(255,255,255,0.5)"/><circle cx="2109.65" cy="622.00" r="23.5" fill="rgba(255,255,255,0.5)"/><circle cx="2158.90" cy="622.00" r="23.5" fill="rgba(255,255,255,0.5)"/><circle cx="2208.15" cy="622.00" r="23.5" fill="rgba(255,255,255,0.5)"/><circle cx="2257.40" cy="622.00" r="23.5" fill="rgba(255,255,255,0.5)"/><circle cx="2306.65" cy="622.00" r="23.5" fill="rgba(255,255,255,0.5)"/><circle cx="2355.90" cy="622.00" r="23.5" fill="rgba(171,208,231,0.76)"/><circle cx="2405.15" cy="622.00" r="23.5" fill="rgba(255,255,255,0.5)"/><circle cx="2454.40" cy="622.00" r="23.5" fill="rgba(255,255,255,0.5)"/><circle cx="2503.65" cy="622.00" r="23.5" fill="rgba(255,255,255,0.5)"/><circle cx="2552.90" cy="622.00" r="23.5" fill="rgba(255,255,255,0.5)"/><circle cx="2602.15" cy="622.00" r="23.5" fill="rgba(255,255,255,0.5)"/><circle cx="2651.40" cy="622.00" r="23.5" fill="rgba(255,255,255,0.5)"/><circle cx="2700.65" cy="622.00" r="23.5" fill="rgba(255,255,255,0.5)"/><circle cx="2749.90" cy="622.00" r="23.5" fill="rgba(255,255,255,0.5)"/><circle cx="2799.15" cy="622.00" r="23.5" fill="rgba(255,255,255,0.5)"/><circle cx="2848.40" cy="622.00" r="23.5" fill="rgba(255,255,255,0.5)"/><circle cx="2897.65" cy="622.00" r="23.5" fill="rgba(255,255,255,0.5)"/><circle cx="2946.90" cy="622.00" r="23.5" fill="rgba(255,255,255,0.5)"/><circle cx="2996.15" cy="622.00" r="23.5" fill="rgba(255,255,255,0.5)"/><circle cx="3045.40" cy="622.00" r="23.5" fill="rgba(255,255,255,0.5)"/><circle cx="3094.65" cy="622.00" r="23.5" fill="rgba(255,255,255,0.5)"/><circle cx="3143.90" cy="622.00" r="23.5" fill="rgba(255,255,255,0.5)"/><circle cx="3193.15" cy="622.00" r="23.5" fill="rgba(255,255,255,0.5)"/><circle cx="1617.15" cy="678.90" r="23.5" fill="rgba(255,255,255,0.5)"/><circle cx="1764.90" cy="678.90" r="23.5" fill="rgba(255,255,255,0.5)"/><circle cx="1814.15" cy="678.90" r="23.5" fill="rgba(255,255,255,0.5)"/><circle cx="1272.40" cy="735.80" r="23.5" fill="rgba(255,255,255,0.5)"/><circle cx="1814.15" cy="735.80" r="23.5" fill="rgba(255,255,255,0.5)"/><circle cx="2257.40" cy="735.80" r="23.5" fill="rgba(255,255,255,0.5)"/><circle cx="2306.65" cy="735.80" r="23.5" fill="rgba(255,255,255,0.5)"/><circle cx="2355.90" cy="735.80" r="23.5" fill="rgba(255,255,255,0.5)"/><circle cx="2405.15" cy="735.80" r="23.5" fill="rgba(255,255,255,0.5)"/><circle cx="2897.65" cy="735.80" r="23.5" fill="rgba(255,255,255,0.5)"/><circle cx="2946.90" cy="735.80" r="23.5" fill="rgba(255,255,255,0.5)"/><circle cx="1764.90" cy="792.70" r="23.5" fill="rgba(255,255,255,0.5)"/><circle cx="730.65" cy="849.60" r="23.5" fill="rgba(255,255,255,0.5)"/><circle cx="779.90" cy="849.60" r="23.5" fill="rgba(255,255,255,0.5)"/><circle cx="829.15" cy="849.60" r="23.5" fill="rgba(255,255,255,0.5)"/><circle cx="878.40" cy="849.60" r="23.5" fill="rgba(255,255,255,0.5)"/><circle cx="976.90" cy="849.60" r="23.5" fill="rgba(255,255,255,0.5)"/><circle cx="1026.15" cy="849.60" r="23.5" fill="rgba(255,255,255,0.5)"/><circle cx="1173.90" cy="849.60" r="23.5" fill="rgba(255,255,255,0.5)"/><circle cx="1223.15" cy="849.60" r="23.5" fill="rgba(255,255,255,0.5)"/><circle cx="1370.90" cy="849.60" r="23.5" fill="rgba(255,255,255,0.5)"/><circle cx="1420.15" cy="849.60" r="23.5" fill="rgba(255,255,255,0.5)"/><circle cx="1814.15" cy="849.60" r="23.5" fill="rgba(255,255,255,0.5)"/><circle cx="1863.40" cy="849.60" r="23.5" fill="rgba(255,255,255,0.5)"/><circle cx="1912.65" cy="849.60" r="23.5" fill="rgba(255,255,255,0.5)"/><circle cx="2257.40" cy="849.60" r="23.5" fill="rgba(255,255,255,0.5)"/><circle cx="2306.65" cy="849.60" r="23.5" fill="rgba(255,255,255,0.5)"/><circle cx="2897.65" cy="849.60" r="23.5" fill="rgba(255,255,255,0.5)"/><circle cx="2946.90" cy="849.60" r="23.5" fill="rgba(255,255,255,0.5)"/><circle cx="730.65" cy="906.50" r="23.5" fill="rgba(255,255,255,0.5)"/><circle cx="779.90" cy="906.50" r="23.5" fill="rgba(255,255,255,0.5)"/><circle cx="829.15" cy="906.50" r="23.5" fill="rgba(255,255,255,0.5)"/><circle cx="878.40" cy="906.50" r="23.5" fill="rgba(255,255,255,0.5)"/><circle cx="976.90" cy="906.50" r="23.5" fill="rgba(255,255,255,0.5)"/><circle cx="1026.15" cy="906.50" r="23.5" fill="rgba(255,255,255,0.5)"/><circle cx="1075.40" cy="906.50" r="23.5" fill="rgba(255,255,255,0.5)"/><circle cx="1124.65" cy="906.50" r="23.5" fill="rgba(255,255,255,0.5)"/><circle cx="1173.90" cy="906.50" r="23.5" fill="rgba(255,255,255,0.5)"/><circle cx="1223.15" cy="906.50" r="23.5" fill="rgba(255,255,255,0.5)"/><circle cx="1272.40" cy="906.50" r="23.5" fill="rgba(255,255,255,0.5)"/><circle cx="1321.65" cy="906.50" r="23.5" fill="rgba(255,255,255,0.5)"/><circle cx="1370.90" cy="906.50" r="23.5" fill="rgba(255,255,255,0.5)"/><circle cx="1420.15" cy="906.50" r="23.5" fill="rgba(255,255,255,0.5)"/><circle cx="1469.40" cy="906.50" r="23.5" fill="rgba(255,255,255,0.5)"/><circle cx="1518.65" cy="906.50" r="23.5" fill="rgba(255,255,255,0.5)"/><circle cx="1617.15" cy="906.50" r="23.5" fill="rgba(255,255,255,0.5)"/><circle cx="1666.40" cy="906.50" r="23.5" fill="rgba(255,255,255,0.5)"/><circle cx="1715.65" cy="906.50" r="23.5" fill="rgba(255,255,255,0.5)"/><circle cx="1764.90" cy="906.50" r="23.5" fill="rgba(255,255,255,0.5)"/><circle cx="1814.15" cy="906.50" r="23.5" fill="rgba(255,255,255,0.5)"/><circle cx="1863.40" cy="906.50" r="23.5" fill="rgba(255,255,255,0.5)"/><circle cx="1912.65" cy="906.50" r="23.5" fill="rgba(255,255,255,0.5)"/><circle cx="2257.40" cy="906.50" r="23.5" fill="rgba(255,255,255,0.5)"/><circle cx="2306.65" cy="906.50" r="23.5" fill="rgba(255,255,255,0.5)"/><circle cx="2355.90" cy="906.50" r="23.5" fill="rgba(255,255,255,0.5)"/><circle cx="2405.15" cy="906.50" r="23.5" fill="rgba(255,255,255,0.5)"/><circle cx="2454.40" cy="906.50" r="23.5" fill="rgba(255,255,255,0.5)"/><circle cx="2503.65" cy="906.50" r="23.5" fill="rgba(255,255,255,0.5)"/><circle cx="2552.90" cy="906.50" r="23.5" fill="rgba(255,255,255,0.5)"/><circle cx="2897.65" cy="906.50" r="23.5" fill="rgba(255,255,255,0.5)"/><circle cx="2946.90" cy="906.50" r="23.5" fill="rgba(255,255,255,0.5)"/><circle cx="730.65" cy="963.40" r="23.5" fill="rgba(255,255,255,0.5)"/><circle cx="779.90" cy="963.40" r="23.5" fill="rgba(255,255,255,0.5)"/><circle cx="829.15" cy="963.40" r="23.5" fill="rgba(255,255,255,0.5)"/><circle cx="878.40" cy="963.40" r="23.5" fill="rgba(255,255,255,0.5)"/><circle cx="976.90" cy="963.40" r="23.5" fill="rgba(255,255,255,0.5)"/><circle cx="1026.15" cy="963.40" r="23.5" fill="rgba(255,255,255,0.5)"/><circle cx="1075.40" cy="963.40" r="23.5" fill="rgba(255,255,255,0.5)"/><circle cx="1124.65" cy="963.40" r="23.5" fill="rgba(255,255,255,0.5)"/><circle cx="1173.90" cy="963.40" r="23.5" fill="rgba(255,255,255,0.5)"/><circle cx="1223.15" cy="963.40" r="23.5" fill="rgba(255,255,255,0.5)"/><circle cx="1272.40" cy="963.40" r="23.5" fill="rgba(255,255,255,0.5)"/><circle cx="1321.65" cy="963.40" r="23.5" fill="rgba(255,255,255,0.5)"/><circle cx="1370.90" cy="963.40" r="23.5" fill="rgba(255,255,255,0.5)"/><circle cx="1420.15" cy="963.40" r="23.5" fill="rgba(255,255,255,0.5)"/><circle cx="1567.90" cy="963.40" r="23.5" fill="rgba(255,255,255,0.5)"/><circle cx="1617.15" cy="963.40" r="23.5" fill="rgba(255,255,255,0.5)"/><circle cx="1666.40" cy="963.40" r="23.5" fill="rgba(255,255,255,0.5)"/><circle cx="1715.65" cy="963.40" r="23.5" fill="rgba(255,255,255,0.5)"/><circle cx="1764.90" cy="963.40" r="23.5" fill="rgba(255,255,255,0.5)"/><circle cx="1814.15" cy="963.40" r="23.5" fill="rgba(255,255,255,0.5)"/><circle cx="1863.40" cy="963.40" r="23.5" fill="rgba(255,255,255,0.5)"/><circle cx="1912.65" cy="963.40" r="23.5" fill="rgba(255,255,255,0.5)"/><circle cx="2257.40" cy="963.40" r="23.5" fill="rgba(255,255,255,0.5)"/><circle cx="2306.65" cy="963.40" r="23.5" fill="rgba(255,255,255,0.5)"/><circle cx="2355.90" cy="963.40" r="23.5" fill="rgba(255,255,255,0.5)"/><circle cx="2405.15" cy="963.40" r="23.5" fill="rgba(255,255,255,0.5)"/><circle cx="2454.40" cy="963.40" r="23.5" fill="rgba(255,255,255,0.5)"/><circle cx="2503.65" cy="963.40" r="23.5" fill="rgba(255,255,255,0.5)"/><circle cx="2897.65" cy="963.40" r="23.5" fill="rgba(255,255,255,0.5)"/><circle cx="2946.90" cy="963.40" r="23.5" fill="rgba(255,255,255,0.5)"/><circle cx="730.65" cy="1020.30" r="23.5" fill="rgba(255,255,255,0.5)"/><circle cx="779.90" cy="1020.30" r="23.5" fill="rgba(255,255,255,0.5)"/><circle cx="829.15" cy="1020.30" r="23.5" fill="rgba(255,255,255,0.5)"/><circle cx="878.40" cy="1020.30" r="23.5" fill="rgba(255,255,255,0.5)"/><circle cx="976.90" cy="1020.30" r="23.5" fill="rgba(255,255,255,0.5)"/><circle cx="1026.15" cy="1020.30" r="23.5" fill="rgba(255,255,255,0.5)"/><circle cx="1075.40" cy="1020.30" r="23.5" fill="rgba(255,255,255,0.5)"/><circle cx="1124.65" cy="1020.30" r="23.5" fill="rgba(255,255,255,0.5)"/><circle cx="1272.40" cy="1020.30" r="23.5" fill="rgba(255,255,255,0.5)"/><circle cx="1370.90" cy="1020.30" r="23.5" fill="rgba(255,255,255,0.5)"/><circle cx="1420.15" cy="1020.30" r="23.5" fill="rgba(255,255,255,0.5)"/><circle cx="1617.15" cy="1020.30" r="23.5" fill="rgba(255,255,255,0.5)"/><circle cx="1764.90" cy="1020.30" r="23.5" fill="rgba(255,255,255,0.5)"/><circle cx="1814.15" cy="1020.30" r="23.5" fill="rgba(255,255,255,0.5)"/><circle cx="1863.40" cy="1020.30" r="23.5" fill="rgba(255,255,255,0.5)"/><circle cx="1912.65" cy="1020.30" r="23.5" fill="rgba(255,255,255,0.5)"/><circle cx="2306.65" cy="1020.30" r="23.5" fill="rgba(255,255,255,0.5)"/><circle cx="2355.90" cy="1020.30" r="23.5" fill="rgba(255,255,255,0.5)"/><circle cx="2405.15" cy="1020.30" r="23.5" fill="rgba(255,255,255,0.5)"/><circle cx="2897.65" cy="1020.30" r="23.5" fill="rgba(255,255,255,0.5)"/><circle cx="2946.90" cy="1020.30" r="23.5" fill="rgba(255,255,255,0.5)"/></g>
<g fill="none" stroke-width="2.8"><circle cx="730.65" cy="166.80" r="23.5" stroke="rgba(0,0,0,0.52)"/><circle cx="1173.90" cy="166.80" r="23.5" stroke="rgba(0,0,0,0.52)"/><circle cx="1814.15" cy="166.80" r="23.5" stroke="rgba(0,0,0,0.52)"/><circle cx="2897.65" cy="166.80" r="23.5" stroke="rgba(0,0,0,0.52)"/><circle cx="2946.90" cy="166.80" r="23.5" stroke="rgba(0,0,0,0.52)"/><circle cx="730.65" cy="223.70" r="23.5" stroke="rgba(0,0,0,0.52)"/><circle cx="779.90" cy="223.70" r="23.5" stroke="rgba(0,0,0,0.52)"/><circle cx="829.15" cy="223.70" r="23.5" stroke="rgba(0,0,0,0.52)"/><circle cx="878.40" cy="223.70" r="23.5" stroke="rgba(0,0,0,0.52)"/><circle cx="976.90" cy="223.70" r="23.5" stroke="rgba(0,0,0,0.52)"/><circle cx="1026.15" cy="223.70" r="23.5" stroke="rgba(0,0,0,0.52)"/><circle cx="1075.40" cy="223.70" r="23.5" stroke="rgba(0,0,0,0.52)"/><circle cx="1124.65" cy="223.70" r="23.5" stroke="rgba(0,0,0,0.52)"/><circle cx="1370.90" cy="223.70" r="23.5" stroke="rgba(0,0,0,0.52)"/><circle cx="1420.15" cy="223.70" r="23.5" stroke="rgba(0,0,0,0.52)"/><circle cx="1617.15" cy="223.70" r="23.5" stroke="rgba(0,0,0,0.52)"/><circle cx="1764.90" cy="223.70" r="23.5" stroke="rgba(0,0,0,0.52)"/><circle cx="927.65" cy="280.60" r="23.5" stroke="rgba(0,0,0,0.52)"/><circle cx="730.65" cy="337.50" r="23.5" stroke="rgba(0,0,0,0.52)"/><circle cx="779.90" cy="337.50" r="23.5" stroke="rgba(0,0,0,0.52)"/><circle cx="829.15" cy="337.50" r="23.5" stroke="rgba(0,0,0,0.52)"/><circle cx="878.40" cy="337.50" r="23.5" stroke="rgba(0,0,0,0.52)"/><circle cx="976.90" cy="337.50" r="23.5" stroke="rgba(0,0,0,0.52)"/><circle cx="1026.15" cy="337.50" r="23.5" stroke="rgba(0,0,0,0.52)"/><circle cx="1075.40" cy="337.50" r="23.5" stroke="rgba(0,0,0,0.52)"/><circle cx="1124.65" cy="337.50" r="23.5" stroke="rgba(0,0,0,0.52)"/><circle cx="1173.90" cy="337.50" r="23.5" stroke="rgba(0,0,0,0.52)"/><circle cx="1223.15" cy="337.50" r="23.5" stroke="rgba(0,0,0,0.52)"/><circle cx="1370.90" cy="337.50" r="23.5" stroke="rgba(0,0,0,0.52)"/><circle cx="1420.15" cy="337.50" r="23.5" stroke="rgba(0,0,0,0.52)"/><circle cx="1617.15" cy="337.50" r="23.5" stroke="rgba(0,0,0,0.52)"/><circle cx="1764.90" cy="337.50" r="23.5" stroke="rgba(0,0,0,0.52)"/><circle cx="1814.15" cy="337.50" r="23.5" stroke="rgba(0,0,0,0.52)"/><circle cx="2257.40" cy="337.50" r="23.5" stroke="rgba(0,0,0,0.52)"/><circle cx="2946.90" cy="337.50" r="23.5" stroke="rgba(0,0,0,0.52)"/><circle cx="730.65" cy="394.40" r="23.5" stroke="rgba(0,0,0,0.52)"/><circle cx="779.90" cy="394.40" r="23.5" stroke="rgba(0,0,0,0.52)"/><circle cx="829.15" cy="394.40" r="23.5" stroke="rgba(0,0,0,0.52)"/><circle cx="878.40" cy="394.40" r="23.5" stroke="rgba(0,0,0,0.52)"/><circle cx="976.90" cy="394.40" r="23.5" stroke="rgba(0,0,0,0.52)"/><circle cx="1026.15" cy="394.40" r="23.5" stroke="rgba(0,0,0,0.52)"/><circle cx="1075.40" cy="394.40" r="23.5" stroke="rgba(0,0,0,0.52)"/><circle cx="1124.65" cy="394.40" r="23.5" stroke="rgba(0,0,0,0.52)"/><circle cx="1173.90" cy="394.40" r="23.5" stroke="rgba(0,0,0,0.52)"/><circle cx="1223.15" cy="394.40" r="23.5" stroke="rgba(0,0,0,0.52)"/><circle cx="1272.40" cy="394.40" r="23.5" stroke="rgba(0,0,0,0.52)"/><circle cx="1370.90" cy="394.40" r="23.5" stroke="rgba(0,0,0,0.52)"/><circle cx="1420.15" cy="394.40" r="23.5" stroke="rgba(0,0,0,0.52)"/><circle cx="1617.15" cy="394.40" r="23.5" stroke="rgba(0,0,0,0.52)"/><circle cx="1666.40" cy="394.40" r="23.5" stroke="rgba(0,0,0,0.52)"/><circle cx="1715.65" cy="394.40" r="23.5" stroke="rgba(0,0,0,0.52)"/><circle cx="1814.15" cy="394.40" r="23.5" stroke="rgba(0,0,0,0.52)"/><circle cx="1863.40" cy="394.40" r="23.5" stroke="rgba(0,0,0,0.52)"/><circle cx="1912.65" cy="394.40" r="23.5" stroke="rgba(0,0,0,0.52)"/><circle cx="2257.40" cy="394.40" r="23.5" stroke="rgba(0,0,0,0.52)"/><circle cx="2306.65" cy="394.40" r="23.5" stroke="rgba(0,0,0,0.52)"/><circle cx="2355.90" cy="394.40" r="23.5" stroke="rgba(0,0,0,0.52)"/><circle cx="2405.15" cy="394.40" r="23.5" stroke="rgba(0,0,0,0.52)"/><circle cx="2454.40" cy="394.40" r="23.5" stroke="rgba(0,0,0,0.52)"/><circle cx="2503.65" cy="394.40" r="23.5" stroke="rgba(0,0,0,0.52)"/><circle cx="2552.90" cy="394.40" r="23.5" stroke="rgba(0,0,0,0.52)"/><circle cx="2897.65" cy="394.40" r="23.5" stroke="rgba(0,0,0,0.52)"/><circle cx="2946.90" cy="394.40" r="23.5" stroke="rgba(0,0,0,0.52)"/><circle cx="1617.15" cy="451.30" r="23.5" stroke="rgba(0,0,0,0.52)"/><circle cx="1764.90" cy="451.30" r="23.5" stroke="rgba(0,0,0,0.68)"/><circle cx="730.65" cy="508.20" r="23.5" stroke="rgba(0,0,0,0.52)"/><circle cx="779.90" cy="508.20" r="23.5" stroke="rgba(0,0,0,0.52)"/><circle cx="829.15" cy="508.20" r="23.5" stroke="rgba(0,0,0,0.52)"/><circle cx="878.40" cy="508.20" r="23.5" stroke="rgba(0,0,0,0.52)"/><circle cx="927.65" cy="508.20" r="23.5" stroke="rgba(0,0,0,0.52)"/><circle cx="976.90" cy="508.20" r="23.5" stroke="rgba(0,0,0,0.52)"/><circle cx="1026.15" cy="508.20" r="23.5" stroke="rgba(0,0,0,0.52)"/><circle cx="1075.40" cy="508.20" r="23.5" stroke="rgba(0,0,0,0.52)"/><circle cx="1124.65" cy="508.20" r="23.5" stroke="rgba(0,0,0,0.52)"/><circle cx="1173.90" cy="508.20" r="23.5" stroke="rgba(0,0,0,0.52)"/><circle cx="1223.15" cy="508.20" r="23.5" stroke="rgba(0,0,0,0.52)"/><circle cx="1272.40" cy="508.20" r="23.5" stroke="rgba(0,0,0,0.68)"/><circle cx="1370.90" cy="508.20" r="23.5" stroke="rgba(0,0,0,0.52)"/><circle cx="1420.15" cy="508.20" r="23.5" stroke="rgba(0,0,0,0.52)"/><circle cx="1567.90" cy="508.20" r="23.5" stroke="rgba(0,0,0,0.52)"/><circle cx="1617.15" cy="508.20" r="23.5" stroke="rgba(0,0,0,0.68)"/><circle cx="1666.40" cy="508.20" r="23.5" stroke="rgba(0,0,0,0.52)"/><circle cx="1715.65" cy="508.20" r="23.5" stroke="rgba(0,0,0,0.52)"/><circle cx="1764.90" cy="508.20" r="23.5" stroke="rgba(0,0,0,0.52)"/><circle cx="1814.15" cy="508.20" r="23.5" stroke="rgba(0,0,0,0.52)"/><circle cx="1863.40" cy="508.20" r="23.5" stroke="rgba(0,0,0,0.52)"/><circle cx="1912.65" cy="508.20" r="23.5" stroke="rgba(0,0,0,0.52)"/><circle cx="2454.40" cy="508.20" r="23.5" stroke="rgba(0,0,0,0.52)"/><circle cx="2503.65" cy="508.20" r="23.5" stroke="rgba(0,0,0,0.52)"/><circle cx="2897.65" cy="508.20" r="23.5" stroke="rgba(0,0,0,0.52)"/><circle cx="2946.90" cy="508.20" r="23.5" stroke="rgba(0,0,0,0.52)"/><circle cx="1075.40" cy="565.10" r="23.5" stroke="rgba(0,0,0,0.52)"/><circle cx="1124.65" cy="565.10" r="23.5" stroke="rgba(0,0,0,0.52)"/><circle cx="1617.15" cy="565.10" r="23.5" stroke="rgba(0,0,0,0.52)"/><circle cx="484.40" cy="622.00" r="23.5" stroke="rgba(0,0,0,0.52)"/><circle cx="533.65" cy="622.00" r="23.5" stroke="rgba(0,0,0,0.52)"/><circle cx="582.90" cy="622.00" r="23.5" stroke="rgba(0,0,0,0.52)"/><circle cx="632.15" cy="622.00" r="23.5" stroke="rgba(0,0,0,0.52)"/><circle cx="681.40" cy="622.00" r="23.5" stroke="rgba(0,0,0,0.52)"/><circle cx="927.65" cy="622.00" r="23.5" stroke="rgba(0,0,0,0.52)"/><circle cx="1272.40" cy="622.00" r="23.5" stroke="rgba(0,0,0,0.52)"/><circle cx="1567.90" cy="622.00" r="23.5" stroke="rgba(0,0,0,0.52)"/><circle cx="1617.15" cy="622.00" r="23.5" stroke="rgba(0,0,0,0.52)"/><circle cx="1764.90" cy="622.00" r="23.5" stroke="rgba(0,0,0,0.52)"/><circle cx="1814.15" cy="622.00" r="23.5" stroke="rgba(0,0,0,0.52)"/><circle cx="1863.40" cy="622.00" r="23.5" stroke="rgba(0,0,0,0.52)"/><circle cx="1912.65" cy="622.00" r="23.5" stroke="rgba(0,0,0,0.52)"/><circle cx="1961.90" cy="622.00" r="23.5" stroke="rgba(0,0,0,0.52)"/><circle cx="2011.15" cy="622.00" r="23.5" stroke="rgba(0,0,0,0.52)"/><circle cx="2060.40" cy="622.00" r="23.5" stroke="rgba(0,0,0,0.52)"/><circle cx="2109.65" cy="622.00" r="23.5" stroke="rgba(0,0,0,0.52)"/><circle cx="2158.90" cy="622.00" r="23.5" stroke="rgba(0,0,0,0.52)"/><circle cx="2208.15" cy="622.00" r="23.5" stroke="rgba(0,0,0,0.52)"/><circle cx="2257.40" cy="622.00" r="23.5" stroke="rgba(0,0,0,0.52)"/><circle cx="2306.65" cy="622.00" r="23.5" stroke="rgba(0,0,0,0.52)"/><circle cx="2355.90" cy="622.00" r="23.5" stroke="rgba(0,0,0,0.68)"/><circle cx="2405.15" cy="622.00" r="23.5" stroke="rgba(0,0,0,0.52)"/><circle cx="2454.40" cy="622.00" r="23.5" stroke="rgba(0,0,0,0.52)"/><circle cx="2503.65" cy="622.00" r="23.5" stroke="rgba(0,0,0,0.52)"/><circle cx="2552.90" cy="622.00" r="23.5" stroke="rgba(0,0,0,0.52)"/><circle cx="2602.15" cy="622.00" r="23.5" stroke="rgba(0,0,0,0.52)"/><circle cx="2651.40" cy="622.00" r="23.5" stroke="rgba(0,0,0,0.52)"/><circle cx="2700.65" cy="622.00" r="23.5" stroke="rgba(0,0,0,0.52)"/><circle cx="2749.90" cy="622.00" r="23.5" stroke="rgba(0,0,0,0.52)"/><circle cx="2799.15" cy="622.00" r="23.5" stroke="rgba(0,0,0,0.52)"/><circle cx="2848.40" cy="622.00" r="23.5" stroke="rgba(0,0,0,0.52)"/><circle cx="2897.65" cy="622.00" r="23.5" stroke="rgba(0,0,0,0.52)"/><circle cx="2946.90" cy="622.00" r="23.5" stroke="rgba(0,0,0,0.52)"/><circle cx="2996.15" cy="622.00" r="23.5" stroke="rgba(0,0,0,0.52)"/><circle cx="3045.40" cy="622.00" r="23.5" stroke="rgba(0,0,0,0.52)"/><circle cx="3094.65" cy="622.00" r="23.5" stroke="rgba(0,0,0,0.52)"/><circle cx="3143.90" cy="622.00" r="23.5" stroke="rgba(0,0,0,0.52)"/><circle cx="3193.15" cy="622.00" r="23.5" stroke="rgba(0,0,0,0.52)"/><circle cx="1617.15" cy="678.90" r="23.5" stroke="rgba(0,0,0,0.52)"/><circle cx="1764.90" cy="678.90" r="23.5" stroke="rgba(0,0,0,0.52)"/><circle cx="1814.15" cy="678.90" r="23.5" stroke="rgba(0,0,0,0.52)"/><circle cx="1272.40" cy="735.80" r="23.5" stroke="rgba(0,0,0,0.52)"/><circle cx="1814.15" cy="735.80" r="23.5" stroke="rgba(0,0,0,0.52)"/><circle cx="2257.40" cy="735.80" r="23.5" stroke="rgba(0,0,0,0.52)"/><circle cx="2306.65" cy="735.80" r="23.5" stroke="rgba(0,0,0,0.52)"/><circle cx="2355.90" cy="735.80" r="23.5" stroke="rgba(0,0,0,0.52)"/><circle cx="2405.15" cy="735.80" r="23.5" stroke="rgba(0,0,0,0.52)"/><circle cx="2897.65" cy="735.80" r="23.5" stroke="rgba(0,0,0,0.52)"/><circle cx="2946.90" cy="735.80" r="23.5" stroke="rgba(0,0,0,0.52)"/><circle cx="1764.90" cy="792.70" r="23.5" stroke="rgba(0,0,0,0.52)"/><circle cx="730.65" cy="849.60" r="23.5" stroke="rgba(0,0,0,0.52)"/><circle cx="779.90" cy="849.60" r="23.5" stroke="rgba(0,0,0,0.52)"/><circle cx="829.15" cy="849.60" r="23.5" stroke="rgba(0,0,0,0.52)"/><circle cx="878.40" cy="849.60" r="23.5" stroke="rgba(0,0,0,0.52)"/><circle cx="976.90" cy="849.60" r="23.5" stroke="rgba(0,0,0,0.52)"/><circle cx="1026.15" cy="849.60" r="23.5" stroke="rgba(0,0,0,0.52)"/><circle cx="1173.90" cy="849.60" r="23.5" stroke="rgba(0,0,0,0.52)"/><circle cx="1223.15" cy="849.60" r="23.5" stroke="rgba(0,0,0,0.52)"/><circle cx="1370.90" cy="849.60" r="23.5" stroke="rgba(0,0,0,0.52)"/><circle cx="1420.15" cy="849.60" r="23.5" stroke="rgba(0,0,0,0.52)"/><circle cx="1814.15" cy="849.60" r="23.5" stroke="rgba(0,0,0,0.52)"/><circle cx="1863.40" cy="849.60" r="23.5" stroke="rgba(0,0,0,0.52)"/><circle cx="1912.65" cy="849.60" r="23.5" stroke="rgba(0,0,0,0.52)"/><circle cx="2257.40" cy="849.60" r="23.5" stroke="rgba(0,0,0,0.52)"/><circle cx="2306.65" cy="849.60" r="23.5" stroke="rgba(0,0,0,0.52)"/><circle cx="2897.65" cy="849.60" r="23.5" stroke="rgba(0,0,0,0.52)"/><circle cx="2946.90" cy="849.60" r="23.5" stroke="rgba(0,0,0,0.52)"/><circle cx="730.65" cy="906.50" r="23.5" stroke="rgba(0,0,0,0.52)"/><circle cx="779.90" cy="906.50" r="23.5" stroke="rgba(0,0,0,0.52)"/><circle cx="829.15" cy="906.50" r="23.5" stroke="rgba(0,0,0,0.52)"/><circle cx="878.40" cy="906.50" r="23.5" stroke="rgba(0,0,0,0.52)"/><circle cx="976.90" cy="906.50" r="23.5" stroke="rgba(0,0,0,0.52)"/><circle cx="1026.15" cy="906.50" r="23.5" stroke="rgba(0,0,0,0.52)"/><circle cx="1075.40" cy="906.50" r="23.5" stroke="rgba(0,0,0,0.52)"/><circle cx="1124.65" cy="906.50" r="23.5" stroke="rgba(0,0,0,0.52)"/><circle cx="1173.90" cy="906.50" r="23.5" stroke="rgba(0,0,0,0.52)"/><circle cx="1223.15" cy="906.50" r="23.5" stroke="rgba(0,0,0,0.52)"/><circle cx="1272.40" cy="906.50" r="23.5" stroke="rgba(0,0,0,0.52)"/><circle cx="1321.65" cy="906.50" r="23.5" stroke="rgba(0,0,0,0.52)"/><circle cx="1370.90" cy="906.50" r="23.5" stroke="rgba(0,0,0,0.52)"/><circle cx="1420.15" cy="906.50" r="23.5" stroke="rgba(0,0,0,0.52)"/><circle cx="1469.40" cy="906.50" r="23.5" stroke="rgba(0,0,0,0.52)"/><circle cx="1518.65" cy="906.50" r="23.5" stroke="rgba(0,0,0,0.52)"/><circle cx="1617.15" cy="906.50" r="23.5" stroke="rgba(0,0,0,0.52)"/><circle cx="1666.40" cy="906.50" r="23.5" stroke="rgba(0,0,0,0.52)"/><circle cx="1715.65" cy="906.50" r="23.5" stroke="rgba(0,0,0,0.52)"/><circle cx="1764.90" cy="906.50" r="23.5" stroke="rgba(0,0,0,0.52)"/><circle cx="1814.15" cy="906.50" r="23.5" stroke="rgba(0,0,0,0.52)"/><circle cx="1863.40" cy="906.50" r="23.5" stroke="rgba(0,0,0,0.52)"/><circle cx="1912.65" cy="906.50" r="23.5" stroke="rgba(0,0,0,0.52)"/><circle cx="2257.40" cy="906.50" r="23.5" stroke="rgba(0,0,0,0.52)"/><circle cx="2306.65" cy="906.50" r="23.5" stroke="rgba(0,0,0,0.52)"/><circle cx="2355.90" cy="906.50" r="23.5" stroke="rgba(0,0,0,0.52)"/><circle cx="2405.15" cy="906.50" r="23.5" stroke="rgba(0,0,0,0.52)"/><circle cx="2454.40" cy="906.50" r="23.5" stroke="rgba(0,0,0,0.52)"/><circle cx="2503.65" cy="906.50" r="23.5" stroke="rgba(0,0,0,0.52)"/><circle cx="2552.90" cy="906.50" r="23.5" stroke="rgba(0,0,0,0.52)"/><circle cx="2897.65" cy="906.50" r="23.5" stroke="rgba(0,0,0,0.52)"/><circle cx="2946.90" cy="906.50" r="23.5" stroke="rgba(0,0,0,0.52)"/><circle cx="730.65" cy="963.40" r="23.5" stroke="rgba(0,0,0,0.52)"/><circle cx="779.90" cy="963.40" r="23.5" stroke="rgba(0,0,0,0.52)"/><circle cx="829.15" cy="963.40" r="23.5" stroke="rgba(0,0,0,0.52)"/><circle cx="878.40" cy="963.40" r="23.5" stroke="rgba(0,0,0,0.52)"/><circle cx="976.90" cy="963.40" r="23.5" stroke="rgba(0,0,0,0.52)"/><circle cx="1026.15" cy="963.40" r="23.5" stroke="rgba(0,0,0,0.52)"/><circle cx="1075.40" cy="963.40" r="23.5" stroke="rgba(0,0,0,0.52)"/><circle cx="1124.65" cy="963.40" r="23.5" stroke="rgba(0,0,0,0.52)"/><circle cx="1173.90" cy="963.40" r="23.5" stroke="rgba(0,0,0,0.52)"/><circle cx="1223.15" cy="963.40" r="23.5" stroke="rgba(0,0,0,0.52)"/><circle cx="1272.40" cy="963.40" r="23.5" stroke="rgba(0,0,0,0.52)"/><circle cx="1321.65" cy="963.40" r="23.5" stroke="rgba(0,0,0,0.52)"/><circle cx="1370.90" cy="963.40" r="23.5" stroke="rgba(0,0,0,0.52)"/><circle cx="1420.15" cy="963.40" r="23.5" stroke="rgba(0,0,0,0.52)"/><circle cx="1567.90" cy="963.40" r="23.5" stroke="rgba(0,0,0,0.52)"/><circle cx="1617.15" cy="963.40" r="23.5" stroke="rgba(0,0,0,0.52)"/><circle cx="1666.40" cy="963.40" r="23.5" stroke="rgba(0,0,0,0.52)"/><circle cx="1715.65" cy="963.40" r="23.5" stroke="rgba(0,0,0,0.52)"/><circle cx="1764.90" cy="963.40" r="23.5" stroke="rgba(0,0,0,0.52)"/><circle cx="1814.15" cy="963.40" r="23.5" stroke="rgba(0,0,0,0.52)"/><circle cx="1863.40" cy="963.40" r="23.5" stroke="rgba(0,0,0,0.52)"/><circle cx="1912.65" cy="963.40" r="23.5" stroke="rgba(0,0,0,0.52)"/><circle cx="2257.40" cy="963.40" r="23.5" stroke="rgba(0,0,0,0.52)"/><circle cx="2306.65" cy="963.40" r="23.5" stroke="rgba(0,0,0,0.52)"/><circle cx="2355.90" cy="963.40" r="23.5" stroke="rgba(0,0,0,0.52)"/><circle cx="2405.15" cy="963.40" r="23.5" stroke="rgba(0,0,0,0.52)"/><circle cx="2454.40" cy="963.40" r="23.5" stroke="rgba(0,0,0,0.52)"/><circle cx="2503.65" cy="963.40" r="23.5" stroke="rgba(0,0,0,0.52)"/><circle cx="2897.65" cy="963.40" r="23.5" stroke="rgba(0,0,0,0.52)"/><circle cx="2946.90" cy="963.40" r="23.5" stroke="rgba(0,0,0,0.52)"/><circle cx="730.65" cy="1020.30" r="23.5" stroke="rgba(0,0,0,0.52)"/><circle cx="779.90" cy="1020.30" r="23.5" stroke="rgba(0,0,0,0.52)"/><circle cx="829.15" cy="1020.30" r="23.5" stroke="rgba(0,0,0,0.52)"/><circle cx="878.40" cy="1020.30" r="23.5" stroke="rgba(0,0,0,0.52)"/><circle cx="976.90" cy="1020.30" r="23.5" stroke="rgba(0,0,0,0.52)"/><circle cx="1026.15" cy="1020.30" r="23.5" stroke="rgba(0,0,0,0.52)"/><circle cx="1075.40" cy="1020.30" r="23.5" stroke="rgba(0,0,0,0.52)"/><circle cx="1124.65" cy="1020.30" r="23.5" stroke="rgba(0,0,0,0.52)"/><circle cx="1272.40" cy="1020.30" r="23.5" stroke="rgba(0,0,0,0.52)"/><circle cx="1370.90" cy="1020.30" r="23.5" stroke="rgba(0,0,0,0.52)"/><circle cx="1420.15" cy="1020.30" r="23.5" stroke="rgba(0,0,0,0.52)"/><circle cx="1617.15" cy="1020.30" r="23.5" stroke="rgba(0,0,0,0.52)"/><circle cx="1764.90" cy="1020.30" r="23.5" stroke="rgba(0,0,0,0.52)"/><circle cx="1814.15" cy="1020.30" r="23.5" stroke="rgba(0,0,0,0.52)"/><circle cx="1863.40" cy="1020.30" r="23.5" stroke="rgba(0,0,0,0.52)"/><circle cx="1912.65" cy="1020.30" r="23.5" stroke="rgba(0,0,0,0.52)"/><circle cx="2306.65" cy="1020.30" r="23.5" stroke="rgba(0,0,0,0.52)"/><circle cx="2355.90" cy="1020.30" r="23.5" stroke="rgba(0,0,0,0.52)"/><circle cx="2405.15" cy="1020.30" r="23.5" stroke="rgba(0,0,0,0.52)"/><circle cx="2897.65" cy="1020.30" r="23.5" stroke="rgba(0,0,0,0.52)"/><circle cx="2946.90" cy="1020.30" r="23.5" stroke="rgba(0,0,0,0.52)"/></g>
<rect x="435.2" y="132.5" width="2787.4" height="922.0" fill="none" stroke="#000" stroke-width="4.5" stroke-linejoin="round"/>
<path d="M423.45 166.80H435.20M423.45 223.70H435.20M423.45 280.60H435.20M423.45 337.50H435.20M423.45 394.40H435.20M423.45 451.30H435.20M423.45 508.20H435.20M423.45 565.10H435.20M423.45 622.00H435.20M423.45 678.90H435.20M423.45 735.80H435.20M423.45 792.70H435.20M423.45 849.60H435.20M423.45 906.50H435.20M423.45 963.40H435.20M423.45 1020.30H435.20M484.40 1066.25V1054.50M533.65 1066.25V1054.50M582.90 1066.25V1054.50M632.15 1066.25V1054.50M681.40 1066.25V1054.50M730.65 1066.25V1054.50M779.90 1066.25V1054.50M829.15 1066.25V1054.50M878.40 1066.25V1054.50M927.65 1066.25V1054.50M976.90 1066.25V1054.50M1026.15 1066.25V1054.50M1075.40 1066.25V1054.50M1124.65 1066.25V1054.50M1173.90 1066.25V1054.50M1223.15 1066.25V1054.50M1272.40 1066.25V1054.50M1321.65 1066.25V1054.50M1370.90 1066.25V1054.50M1420.15 1066.25V1054.50M1469.40 1066.25V1054.50M1518.65 1066.25V1054.50M1567.90 1066.25V1054.50M1617.15 1066.25V1054.50M1666.40 1066.25V1054.50M1715.65 1066.25V1054.50M1764.90 1066.25V1054.50M1814.15 1066.25V1054.50M1863.40 1066.25V1054.50M1912.65 1066.25V1054.50M1961.90 1066.25V1054.50M2011.15 1066.25V1054.50M2060.40 1066.25V1054.50M2109.65 1066.25V1054.50M2158.90 1066.25V1054.50M2208.15 1066.25V1054.50M2257.40 1066.25V1054.50M2306.65 1066.25V1054.50M2355.90 1066.25V1054.50M2405.15 1066.25V1054.50M2454.40 1066.25V1054.50M2503.65 1066.25V1054.50M2552.90 1066.25V1054.50M2602.15 1066.25V1054.50M2651.40 1066.25V1054.50M2700.65 1066.25V1054.50M2749.90 1066.25V1054.50M2799.15 1066.25V1054.50M2848.40 1066.25V1054.50M2897.65 1066.25V1054.50M2946.90 1066.25V1054.50M2996.15 1066.25V1054.50M3045.40 1066.25V1054.50M3094.65 1066.25V1054.50M3143.90 1066.25V1054.50M3193.15 1066.25V1054.50" stroke="#333" stroke-width="4.4" fill="none"/>
<text x="414.2" y="180.20" text-anchor="end" font-family="Liberation Sans, sans-serif" font-size="39.2" letter-spacing="-0.8" fill="#4d4d4d">Progenitors</text>
<text x="414.2" y="237.10" text-anchor="end" font-family="Liberation Sans, sans-serif" font-size="39.2" letter-spacing="-0.8" fill="#4d4d4d">Plasma cells</text>
<text x="414.2" y="294.00" text-anchor="end" font-family="Liberation Sans, sans-serif" font-size="39.2" letter-spacing="-0.8" fill="#4d4d4d">Physiology B cells</text>
<text x="414.2" y="350.90" text-anchor="end" font-family="Liberation Sans, sans-serif" font-size="39.2" letter-spacing="-0.8" fill="#4d4d4d">pDCs</text>
<text x="414.2" y="407.80" text-anchor="end" font-family="Liberation Sans, sans-serif" font-size="39.2" letter-spacing="-0.8" fill="#4d4d4d">NK cells</text>
<text x="414.2" y="464.70" text-anchor="end" font-family="Liberation Sans, sans-serif" font-size="39.2" letter-spacing="-0.8" fill="#4d4d4d">Neutrophils</text>
<text x="414.2" y="521.60" text-anchor="end" font-family="Liberation Sans, sans-serif" font-size="39.2" letter-spacing="-0.8" fill="#4d4d4d">Mono/Macro</text>
<text x="414.2" y="578.50" text-anchor="end" font-family="Liberation Sans, sans-serif" font-size="39.2" letter-spacing="-0.8" fill="#4d4d4d">Mast cells</text>
<text x="414.2" y="635.40" text-anchor="end" font-family="Liberation Sans, sans-serif" font-size="39.2" letter-spacing="-0.8" fill="#4d4d4d">Malignant cells</text>
<text x="414.2" y="692.30" text-anchor="end" font-family="Liberation Sans, sans-serif" font-size="39.2" letter-spacing="-0.8" fill="#4d4d4d">Fibroblasts</text>
<text x="414.2" y="749.20" text-anchor="end" font-family="Liberation Sans, sans-serif" font-size="39.2" letter-spacing="-0.8" fill="#4d4d4d">Erythrocytes</text>
<text x="414.2" y="806.10" text-anchor="end" font-family="Liberation Sans, sans-serif" font-size="39.2" letter-spacing="-0.8" fill="#4d4d4d">Endothelial cells</text>
<text x="414.2" y="863.00" text-anchor="end" font-family="Liberation Sans, sans-serif" font-size="39.2" letter-spacing="-0.8" fill="#4d4d4d">cDCs</text>
<text x="414.2" y="919.90" text-anchor="end" font-family="Liberation Sans, sans-serif" font-size="39.2" letter-spacing="-0.8" fill="#4d4d4d">CD8+ T cells</text>
<text x="414.2" y="976.80" text-anchor="end" font-family="Liberation Sans, sans-serif" font-size="39.2" letter-spacing="-0.8" fill="#4d4d4d">CD4+ T cells</text>
<text x="414.2" y="1033.70" text-anchor="end" font-family="Liberation Sans, sans-serif" font-size="39.2" letter-spacing="-0.8" fill="#4d4d4d">B cells</text>
<text transform="translate(483.90,1075.00) rotate(-50)" x="0" y="22" text-anchor="end" font-family="Liberation Sans, sans-serif" font-size="31" letter-spacing="-0.95" fill="#4d4d4d">GSE140440</text>
<text transform="translate(533.15,1075.00) rotate(-50)" x="0" y="22" text-anchor="end" font-family="Liberation Sans, sans-serif" font-size="31" letter-spacing="-0.95" fill="#4d4d4d">GSE186960</text>
<text transform="translate(582.40,1075.00) rotate(-50)" x="0" y="22" text-anchor="end" font-family="Liberation Sans, sans-serif" font-size="31" letter-spacing="-0.95" fill="#4d4d4d">GSE138267</text>
<text transform="translate(631.65,1075.00) rotate(-50)" x="0" y="22" text-anchor="end" font-family="Liberation Sans, sans-serif" font-size="31" letter-spacing="-0.95" fill="#4d4d4d">GSE131984_Pac</text>
<text transform="translate(680.90,1075.00) rotate(-50)" x="0" y="22" text-anchor="end" font-family="Liberation Sans, sans-serif" font-size="31" letter-spacing="-0.95" fill="#4d4d4d">GSE163836</text>
<text transform="translate(730.15,1075.00) rotate(-50)" x="0" y="22" text-anchor="end" font-family="Liberation Sans, sans-serif" font-size="31" letter-spacing="-0.95" fill="#4d4d4d">GSE169246_PacBlood_post</text>
<text transform="translate(779.40,1075.00) rotate(-50)" x="0" y="22" text-anchor="end" font-family="Liberation Sans, sans-serif" font-size="31" letter-spacing="-0.95" fill="#4d4d4d">GSE169246_PacBlood_pre</text>
<text transform="translate(828.65,1075.00) rotate(-50)" x="0" y="22" text-anchor="end" font-family="Liberation Sans, sans-serif" font-size="31" letter-spacing="-0.95" fill="#4d4d4d">GSE169246_PacTissue_post</text>
<text transform="translate(877.90,1075.00) rotate(-50)" x="0" y="22" text-anchor="end" font-family="Liberation Sans, sans-serif" font-size="31" letter-spacing="-0.95" fill="#4d4d4d">GSE169246_PacTissue_pre</text>
<text transform="translate(927.15,1075.00) rotate(-50)" x="0" y="22" text-anchor="end" font-family="Liberation Sans, sans-serif" font-size="31" letter-spacing="-0.95" fill="#4d4d4d">GSE153697</text>
<text transform="translate(976.40,1075.00) rotate(-50)" x="0" y="22" text-anchor="end" font-family="Liberation Sans, sans-serif" font-size="31" letter-spacing="-0.95" fill="#4d4d4d">GSE169246_PacAteBlood_post</text>
<text transform="translate(1025.65,1075.00) rotate(-50)" x="0" y="22" text-anchor="end" font-family="Liberation Sans, sans-serif" font-size="31" letter-spacing="-0.95" fill="#4d4d4d">GSE169246_PacAteBlood_pre</text>
<text transform="translate(1074.90,1075.00) rotate(-50)" x="0" y="22" text-anchor="end" font-family="Liberation Sans, sans-serif" font-size="31" letter-spacing="-0.95" fill="#4d4d4d">GSE169246_PacAteTissue_post</text>
<text transform="translate(1124.15,1075.00) rotate(-50)" x="0" y="22" text-anchor="end" font-family="Liberation Sans, sans-serif" font-size="31" letter-spacing="-0.95" fill="#4d4d4d">GSE169246_PacAteTissue_pre</text>
<text transform="translate(1173.40,1075.00) rotate(-50)" x="0" y="22" text-anchor="end" font-family="Liberation Sans, sans-serif" font-size="31" letter-spacing="-0.95" fill="#4d4d4d">GSE197268_Axi−cel_post</text>
<text transform="translate(1222.65,1075.00) rotate(-50)" x="0" y="22" text-anchor="end" font-family="Liberation Sans, sans-serif" font-size="31" letter-spacing="-0.95" fill="#4d4d4d">GSE197268_Axi−cel_pre</text>
<text transform="translate(1271.90,1075.00) rotate(-50)" x="0" y="22" text-anchor="end" font-family="Liberation Sans, sans-serif" font-size="31" letter-spacing="-0.95" fill="#4d4d4d">GSE164551</text>
<text transform="translate(1321.15,1075.00) rotate(-50)" x="0" y="22" text-anchor="end" font-family="Liberation Sans, sans-serif" font-size="31" letter-spacing="-0.95" fill="#4d4d4d">PMID34715028_post</text>
<text transform="translate(1370.40,1075.00) rotate(-50)" x="0" y="22" text-anchor="end" font-family="Liberation Sans, sans-serif" font-size="31" letter-spacing="-0.95" fill="#4d4d4d">GSE212217_post</text>
<text transform="translate(1419.65,1075.00) rotate(-50)" x="0" y="22" text-anchor="end" font-family="Liberation Sans, sans-serif" font-size="31" letter-spacing="-0.95" fill="#4d4d4d">GSE212217_pre</text>
<text transform="translate(1468.90,1075.00) rotate(-50)" x="0" y="22" text-anchor="end" font-family="Liberation Sans, sans-serif" font-size="31" letter-spacing="-0.95" fill="#4d4d4d">GSE164237_post</text>
<text transform="translate(1518.15,1075.00) rotate(-50)" x="0" y="22" text-anchor="end" font-family="Liberation Sans, sans-serif" font-size="31" letter-spacing="-0.95" fill="#4d4d4d">GSE164237_pre</text>
<text transform="translate(1567.40,1075.00) rotate(-50)" x="0" y="22" text-anchor="end" font-family="Liberation Sans, sans-serif" font-size="31" letter-spacing="-0.95" fill="#4d4d4d">GSE150930</text>
<text transform="translate(1616.65,1075.00) rotate(-50)" x="0" y="22" text-anchor="end" font-family="Liberation Sans, sans-serif" font-size="31" letter-spacing="-0.95" fill="#4d4d4d">GSE207422_Sin_post</text>
<text transform="translate(1665.90,1075.00) rotate(-50)" x="0" y="22" text-anchor="end" font-family="Liberation Sans, sans-serif" font-size="31" letter-spacing="-0.95" fill="#4d4d4d">GSE197268_Tisa−cel_post</text>
<text transform="translate(1715.15,1075.00) rotate(-50)" x="0" y="22" text-anchor="end" font-family="Liberation Sans, sans-serif" font-size="31" letter-spacing="-0.95" fill="#4d4d4d">GSE197268_Tisa−cel_pre</text>
<text transform="translate(1764.40,1075.00) rotate(-50)" x="0" y="22" text-anchor="end" font-family="Liberation Sans, sans-serif" font-size="31" letter-spacing="-0.95" fill="#4d4d4d">GSE207422_Tor_post</text>
<text transform="translate(1813.65,1075.00) rotate(-50)" x="0" y="22" text-anchor="end" font-family="Liberation Sans, sans-serif" font-size="31" letter-spacing="-0.95" fill="#4d4d4d">GSE189460_pre</text>
<text transform="translate(1862.90,1075.00) rotate(-50)" x="0" y="22" text-anchor="end" font-family="Liberation Sans, sans-serif" font-size="31" letter-spacing="-0.95" fill="#4d4d4d">GSE161801_PI_post</text>
<text transform="translate(1912.15,1075.00) rotate(-50)" x="0" y="22" text-anchor="end" font-family="Liberation Sans, sans-serif" font-size="31" letter-spacing="-0.95" fill="#4d4d4d">GSE161801_PI_pre</text>
<text transform="translate(1961.40,1075.00) rotate(-50)" x="0" y="22" text-anchor="end" font-family="Liberation Sans, sans-serif" font-size="31" letter-spacing="-0.95" fill="#4d4d4d">GSE139386</text>
<text transform="translate(2010.65,1075.00) rotate(-50)" x="0" y="22" text-anchor="end" font-family="Liberation Sans, sans-serif" font-size="31" letter-spacing="-0.95" fill="#4d4d4d">GSE161195_post</text>
<text transform="translate(2059.90,1075.00) rotate(-50)" x="0" y="22" text-anchor="end" font-family="Liberation Sans, sans-serif" font-size="31" letter-spacing="-0.95" fill="#4d4d4d">GSE161195_pre</text>
<text transform="translate(2109.15,1075.00) rotate(-50)" x="0" y="22" text-anchor="end" font-family="Liberation Sans, sans-serif" font-size="31" letter-spacing="-0.95" fill="#4d4d4d">GSE158457</text>
<text transform="translate(2158.40,1075.00) rotate(-50)" x="0" y="22" text-anchor="end" font-family="Liberation Sans, sans-serif" font-size="31" letter-spacing="-0.95" fill="#4d4d4d">GSE168668</text>
<text transform="translate(2207.65,1075.00) rotate(-50)" x="0" y="22" text-anchor="end" font-family="Liberation Sans, sans-serif" font-size="31" letter-spacing="-0.95" fill="#4d4d4d">GSE149214</text>
<text transform="translate(2256.90,1075.00) rotate(-50)" x="0" y="22" text-anchor="end" font-family="Liberation Sans, sans-serif" font-size="31" letter-spacing="-0.95" fill="#4d4d4d">GSE162117_post</text>
<text transform="translate(2306.15,1075.00) rotate(-50)" x="0" y="22" text-anchor="end" font-family="Liberation Sans, sans-serif" font-size="31" letter-spacing="-0.95" fill="#4d4d4d">GSE162117_pre</text>
<text transform="translate(2355.40,1075.00) rotate(-50)" x="0" y="22" text-anchor="end" font-family="Liberation Sans, sans-serif" font-size="31" letter-spacing="-0.95" fill="#4d4d4d">GSE199333_post</text>
<text transform="translate(2404.65,1075.00) rotate(-50)" x="0" y="22" text-anchor="end" font-family="Liberation Sans, sans-serif" font-size="31" letter-spacing="-0.95" fill="#4d4d4d">GSE199333_pre</text>
<text transform="translate(2453.90,1075.00) rotate(-50)" x="0" y="22" text-anchor="end" font-family="Liberation Sans, sans-serif" font-size="31" letter-spacing="-0.95" fill="#4d4d4d">GSE111014_post</text>
<text transform="translate(2503.15,1075.00) rotate(-50)" x="0" y="22" text-anchor="end" font-family="Liberation Sans, sans-serif" font-size="31" letter-spacing="-0.95" fill="#4d4d4d">GSE111014_pre</text>
<text transform="translate(2552.40,1075.00) rotate(-50)" x="0" y="22" text-anchor="end" font-family="Liberation Sans, sans-serif" font-size="31" letter-spacing="-0.95" fill="#4d4d4d">GSE152469</text>
<text transform="translate(2601.65,1075.00) rotate(-50)" x="0" y="22" text-anchor="end" font-family="Liberation Sans, sans-serif" font-size="31" letter-spacing="-0.95" fill="#4d4d4d">GSE131984_JQ1</text>
<text transform="translate(2650.90,1075.00) rotate(-50)" x="0" y="22" text-anchor="end" font-family="Liberation Sans, sans-serif" font-size="31" letter-spacing="-0.95" fill="#4d4d4d">GSE131984_JQ1Pac</text>
<text transform="translate(2700.15,1075.00) rotate(-50)" x="0" y="22" text-anchor="end" font-family="Liberation Sans, sans-serif" font-size="31" letter-spacing="-0.95" fill="#4d4d4d">GSE131984_JQ1Pal</text>
<text transform="translate(2749.40,1075.00) rotate(-50)" x="0" y="22" text-anchor="end" font-family="Liberation Sans, sans-serif" font-size="31" letter-spacing="-0.95" fill="#4d4d4d">GSE104987</text>
<text transform="translate(2798.65,1075.00) rotate(-50)" x="0" y="22" text-anchor="end" font-family="Liberation Sans, sans-serif" font-size="31" letter-spacing="-0.95" fill="#4d4d4d">GSE131984_Pal</text>
<text transform="translate(2847.90,1075.00) rotate(-50)" x="0" y="22" text-anchor="end" font-family="Liberation Sans, sans-serif" font-size="31" letter-spacing="-0.95" fill="#4d4d4d">GSE108397</text>
<text transform="translate(2897.15,1075.00) rotate(-50)" x="0" y="22" text-anchor="end" font-family="Liberation Sans, sans-serif" font-size="31" letter-spacing="-0.95" fill="#4d4d4d">GSE161801_IMiD_post</text>
<text transform="translate(2946.40,1075.00) rotate(-50)" x="0" y="22" text-anchor="end" font-family="Liberation Sans, sans-serif" font-size="31" letter-spacing="-0.95" fill="#4d4d4d">GSE161801_IMiD_pre</text>
<text transform="translate(2995.65,1075.00) rotate(-50)" x="0" y="22" text-anchor="end" font-family="Liberation Sans, sans-serif" font-size="31" letter-spacing="-0.95" fill="#4d4d4d">GSE175716</text>
<text transform="translate(3044.90,1075.00) rotate(-50)" x="0" y="22" text-anchor="end" font-family="Liberation Sans, sans-serif" font-size="31" letter-spacing="-0.95" fill="#4d4d4d">GSE115251</text>
<text transform="translate(3094.15,1075.00) rotate(-50)" x="0" y="22" text-anchor="end" font-family="Liberation Sans, sans-serif" font-size="31" letter-spacing="-0.95" fill="#4d4d4d">GSE164897_Vem</text>
<text transform="translate(3143.40,1075.00) rotate(-50)" x="0" y="22" text-anchor="end" font-family="Liberation Sans, sans-serif" font-size="31" letter-spacing="-0.95" fill="#4d4d4d">GSE164897_VemCob</text>
<text transform="translate(3192.65,1075.00) rotate(-50)" x="0" y="22" text-anchor="end" font-family="Liberation Sans, sans-serif" font-size="31" letter-spacing="-0.95" fill="#4d4d4d">GSE164897_VemTra</text>
<text x="434.65" y="98" font-family="Liberation Sans, sans-serif" font-size="57.3" letter-spacing="-2.0" fill="#000">Expression of TREM1</text>
<text x="3289.6" y="492" font-family="Liberation Sans, sans-serif" font-size="48.6" letter-spacing="-1.1" fill="#000">Expression</text>
<rect x="3291.2" y="518.2" width="72.1" height="216.29999999999998" fill="#f2f2f2"/>
<circle cx="3327.25" cy="554.25" r="8.2" fill="#d6938b" stroke="rgba(0,0,0,0.5)" stroke-width="2.9"/>
<text x="3386" y="568.15" font-family="Liberation Sans, sans-serif" font-size="39.2" letter-spacing="-0.8" fill="#000">Up</text>
<circle cx="3327.25" cy="626.35" r="8.2" fill="#78b0d6" stroke="rgba(0,0,0,0.52)" stroke-width="2.9"/>
<text x="3386" y="640.25" font-family="Liberation Sans, sans-serif" font-size="39.2" letter-spacing="-0.8" fill="#000">Down</text>
<circle cx="3327.25" cy="698.45" r="8.2" fill="#fafafa" stroke="rgba(0,0,0,0.5)" stroke-width="2.9"/>
<text x="3386" y="712.35" font-family="Liberation Sans, sans-serif" font-size="39.2" letter-spacing="-0.8" fill="#000">None</text>
<rect x="435" y="1416.3" width="231.79999999999995" height="4.6" fill="#000"/>
<rect x="681.3" y="1416.3" width="921.1000000000001" height="4.6" fill="#000"/>
<rect x="1627" y="1416.3" width="1418.6999999999998" height="4.6" fill="#000"/>
<text x="483.4" y="1482.8" text-anchor="middle" font-family="Liberation Serif, serif" font-size="55" letter-spacing="-0.5" fill="#000">Chemotherapy</text>
<text x="1183" y="1482.8" text-anchor="middle" font-family="Liberation Serif, serif" font-size="55" letter-spacing="-0.5" fill="#000">Immunotherapy</text>
<text x="2404.5" y="1482.8" text-anchor="middle" font-family="Liberation Serif, serif" font-size="55" letter-spacing="-0.5" fill="#000">Targeted therapy</text>
</svg></body></html>
